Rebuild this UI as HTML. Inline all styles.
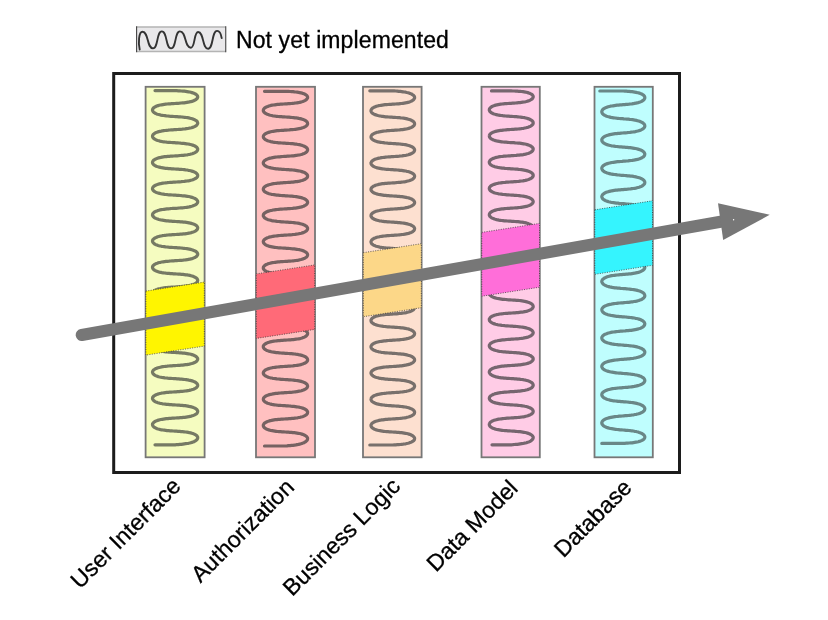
<!DOCTYPE html>
<html><head><meta charset="utf-8"><style>
html,body{margin:0;padding:0;background:#fff;}
body{width:828px;height:620px;position:relative;overflow:hidden;}
svg{position:absolute;left:0;top:0;will-change:transform;}
</style></head><body>
<svg width="828" height="620" viewBox="0 0 828 620">
<rect x="136.5" y="26.9" width="89.3" height="24.6" fill="#e9e8ea"/>
<path d="M136.5,26.9 H225.8 M136.5,51.5 H225.8" stroke="#b4b4b4" stroke-width="1.5" fill="none"/>
<path d="M136.6,26.2 V52.2 M225.75,26.2 V52.2" stroke="#444" stroke-width="1.1" fill="none"/>
<path d="M139.7,49.6 C138.2,43.5 138.6,31.8 142.50,31.80 C148.80,31.80 146.70,48.40 153.00,48.40 C158.28,48.40 156.52,31.40 161.80,31.40 C167.38,31.40 165.52,48.40 171.10,48.40 C176.38,48.40 174.62,31.40 179.90,31.40 C186.50,31.40 184.30,47.70 190.90,47.70 C195.22,47.70 193.78,32.00 198.10,32.00 C204.10,32.00 202.10,48.70 208.10,48.70 C213.50,48.70 211.70,30.90 217.10,30.90 C220,30.9 221.2,35 221.7,38.1" fill="none" stroke="#333" stroke-width="1.9" stroke-linecap="round"/>
<text x="236" y="47.8" font-family="Liberation Sans" font-size="23" letter-spacing="0.11" fill="#000" stroke="#000" stroke-width="0.3">Not yet implemented</text>
<rect x="113.7" y="73.5" width="565.8" height="399" fill="#fff" stroke="#1c1c1c" stroke-width="3"/>
<rect x="145.6" y="86.8" width="59.00" height="370.5" fill="#f5fcc0" stroke="#777" stroke-width="1.8"/>
<path d="M155.0,90.6L175.1,90.6 176.7,90.7 178.3,90.8 179.8,90.9 181.3,91.0 182.9,91.1 184.3,91.2 185.7,91.4 187.1,91.6 188.4,91.8 189.7,92.0 190.8,92.3 191.9,92.6 193.0,92.9 193.9,93.2 194.7,93.6 195.4,94.0 196.1,94.4 196.6,94.8 197.1,95.3 197.4,95.8 197.6,96.2 197.7,96.7 197.7,97.2 197.6,97.7 197.3,98.1 197.0,98.6 196.5,99.1 196.0,99.5 195.3,99.9 194.6,100.3 193.7,100.7 192.8,101.1 191.8,101.4 190.7,101.7 189.5,101.9 188.2,102.2 186.9,102.4 185.5,102.6 184.1,102.8 182.6,102.9 181.1,103.0 179.6,103.2 178.0,103.3 176.4,103.4 174.9,103.5 173.3,103.6 171.7,103.7 170.2,103.8 168.6,103.9 167.1,104.0 165.7,104.2 164.3,104.4 162.9,104.6 161.6,104.8 160.4,105.0 159.2,105.3 158.1,105.6 157.1,105.9 156.2,106.3 155.4,106.7 154.6,107.1 154.0,107.5 153.5,108.0 153.1,108.4 152.8,108.9 152.6,109.4 152.5,109.9 152.5,110.4 152.7,110.8 152.9,111.3 153.3,111.8 153.7,112.2 154.3,112.7 155.0,113.1 155.7,113.5 156.6,113.9 157.5,114.2 158.6,114.5 159.7,114.8 160.9,115.1 162.2,115.3 163.5,115.5 164.9,115.7 166.3,115.9 167.8,116.0 169.3,116.2 170.8,116.3 172.4,116.4 174.0,116.5 175.6,116.6 177.1,116.7 178.7,116.8 180.3,116.9 181.8,117.0 183.3,117.2 184.7,117.3 186.2,117.5 187.5,117.7 188.8,117.9 190.0,118.2 191.2,118.5 192.2,118.8 193.2,119.1 194.1,119.5 194.9,119.9 195.6,120.3 196.3,120.7 196.8,121.1 197.2,121.6 197.4,122.1 197.6,122.6 197.7,123.1 197.7,123.5 197.5,124.0 197.2,124.5 196.9,125.0 196.4,125.4 195.8,125.9 195.1,126.3 194.4,126.7 193.5,127.0 192.5,127.4 191.5,127.7 190.3,128.0 189.1,128.2 187.8,128.5 186.5,128.7 185.1,128.9 183.7,129.0 182.2,129.2 180.7,129.3 179.1,129.4 177.6,129.5 176.0,129.6 174.4,129.7 172.8,129.8 171.2,129.9 169.7,130.0 168.2,130.2 166.7,130.3 165.2,130.5 163.8,130.6 162.5,130.8 161.2,131.1 160.0,131.3 158.9,131.6 157.8,131.9 156.8,132.3 155.9,132.6 155.1,133.0 154.5,133.4 153.9,133.9 153.4,134.3 153.0,134.8 152.7,135.3 152.6,135.7 152.5,136.2 152.6,136.7 152.7,137.2 153.0,137.7 153.4,138.1 153.9,138.6 154.5,139.0 155.2,139.4 156.0,139.8 156.9,140.2 157.8,140.5 158.9,140.8 160.0,141.1 161.3,141.4 162.5,141.6 163.9,141.8 165.3,142.0 166.7,142.2 168.2,142.3 169.8,142.4 171.3,142.5 172.9,142.6 174.5,142.7 176.0,142.8 177.6,142.9 179.2,143.0 180.7,143.2 182.2,143.3 183.7,143.4 185.2,143.6 186.6,143.8 187.9,144.0 189.2,144.2 190.4,144.5 191.5,144.8 192.5,145.1 193.5,145.4 194.4,145.8 195.2,146.2 195.8,146.6 196.4,147.0 196.9,147.5 197.3,148.0 197.5,148.4 197.7,148.9 197.7,149.4 197.6,149.9 197.4,150.4 197.1,150.9 196.7,151.3 196.2,151.8 195.6,152.2 194.9,152.6 194.1,153.0 193.2,153.4 192.2,153.7 191.1,154.0 190.0,154.3 188.8,154.5 187.5,154.8 186.1,155.0 184.7,155.1 183.2,155.3 181.7,155.4 180.2,155.5 178.7,155.7 177.1,155.8 175.5,155.9 173.9,156.0 172.4,156.1 170.8,156.2 169.2,156.3 167.7,156.4 166.3,156.6 164.8,156.7 163.4,156.9 162.1,157.1 160.8,157.4 159.7,157.6 158.5,157.9 157.5,158.2 156.6,158.6 155.7,159.0 154.9,159.4 154.3,159.8 153.7,160.2 153.2,160.7 152.9,161.1 152.7,161.6 152.5,162.1 152.5,162.6 152.6,163.1 152.8,163.6 153.1,164.0 153.5,164.5 154.0,164.9 154.7,165.4 155.4,165.8 156.2,166.2 157.1,166.5 158.1,166.8 159.2,167.1 160.4,167.4 161.6,167.7 162.9,167.9 164.3,168.1 165.7,168.3 167.2,168.4 168.7,168.6 170.2,168.7 171.8,168.8 173.3,168.9 174.9,169.0 176.5,169.1 178.1,169.2 179.6,169.3 181.2,169.4 182.7,169.5 184.2,169.7 185.6,169.9 187.0,170.0 188.3,170.3 189.5,170.5 190.7,170.8 191.8,171.1 192.8,171.4 193.8,171.7 194.6,172.1 195.4,172.5 196.0,172.9 196.6,173.4 197.0,173.8 197.3,174.3 197.6,174.8 197.7,175.3 197.7,175.8 197.6,176.3 197.4,176.7 197.0,177.2 196.6,177.7 196.1,178.1 195.4,178.5 194.7,178.9 193.8,179.3 192.9,179.7 191.9,180.0 190.8,180.3 189.6,180.6 188.4,180.8 187.1,181.0 185.7,181.2 184.3,181.4 182.8,181.5 181.3,181.7 179.8,181.8 178.2,181.9 176.6,182.0 175.0,182.1 173.5,182.2 171.9,182.3 170.3,182.4 168.8,182.5 167.3,182.7 165.8,182.8 164.4,183.0 163.0,183.2 161.7,183.4 160.5,183.7 159.3,183.9 158.2,184.2 157.2,184.6 156.3,184.9 155.5,185.3 154.7,185.7 154.1,186.1 153.6,186.6 153.1,187.0 152.8,187.5 152.6,188.0 152.5,188.5 152.5,189.0 152.6,189.4 152.9,189.9 153.2,190.4 153.7,190.8 154.2,191.3 154.9,191.7 155.6,192.1 156.5,192.5 157.4,192.8 158.5,193.1 159.6,193.4 160.8,193.7 162.0,194.0 163.3,194.2 164.7,194.4 166.1,194.5 167.6,194.7 169.1,194.8 170.7,194.9 172.2,195.0 173.8,195.1 175.4,195.2 177.0,195.3 178.5,195.4 180.1,195.5 181.6,195.7 183.1,195.8 184.6,195.9 186.0,196.1 187.4,196.3 188.7,196.5 189.9,196.8 191.0,197.1 192.1,197.4 193.1,197.7 194.0,198.1 194.9,198.5 195.6,198.9 196.2,199.3 196.7,199.7 197.1,200.2 197.4,200.7 197.6,201.2 197.7,201.6 197.7,202.1 197.5,202.6 197.3,203.1 196.9,203.6 196.5,204.0 195.9,204.5 195.2,204.9 194.4,205.3 193.6,205.6 192.6,206.0 191.6,206.3 190.5,206.6 189.3,206.9 188.0,207.1 186.7,207.3 185.3,207.5 183.8,207.7 182.4,207.8 180.8,207.9 179.3,208.0 177.7,208.2 176.2,208.3 174.6,208.3 173.0,208.4 171.4,208.5 169.9,208.7 168.3,208.8 166.9,208.9 165.4,209.1 164.0,209.3 162.6,209.5 161.4,209.7 160.1,209.9 159.0,210.2 157.9,210.5 156.9,210.9 156.0,211.2 155.2,211.6 154.5,212.0 153.9,212.5 153.4,212.9 153.0,213.4 152.7,213.9 152.6,214.3 152.5,214.8 152.5,215.3 152.7,215.8 153.0,216.3 153.3,216.7 153.8,217.2 154.4,217.6 155.1,218.0 155.9,218.4 156.8,218.8 157.7,219.1 158.8,219.5 159.9,219.7 161.1,220.0 162.4,220.2 163.7,220.4 165.1,220.6 166.6,220.8 168.1,220.9 169.6,221.1 171.1,221.2 172.7,221.3 174.3,221.4 175.9,221.5 177.4,221.6 179.0,221.7 180.6,221.8 182.1,221.9 183.6,222.1 185.0,222.2 186.4,222.4 187.8,222.6 189.0,222.8 190.2,223.1 191.4,223.4 192.4,223.7 193.4,224.0 194.3,224.4 195.1,224.8 195.8,225.2 196.4,225.6 196.8,226.1 197.2,226.6 197.5,227.0 197.7,227.5 197.7,228.0 197.6,228.5 197.5,229.0 197.2,229.5 196.8,229.9 196.3,230.4 195.7,230.8 195.0,231.2 194.2,231.6 193.3,232.0 192.3,232.3 191.3,232.6 190.1,232.9 188.9,233.1 187.6,233.4 186.3,233.6 184.9,233.8 183.4,233.9 181.9,234.1 180.4,234.2 178.8,234.3 177.3,234.4 175.7,234.5 174.1,234.6 172.5,234.7 171.0,234.8 169.4,234.9 167.9,235.0 166.4,235.2 165.0,235.3 163.6,235.5 162.3,235.7 161.0,236.0 159.8,236.2 158.7,236.5 157.6,236.8 156.7,237.2 155.8,237.6 155.0,238.0 154.3,238.4 153.8,238.8 153.3,239.3 152.9,239.7 152.7,240.2 152.5,240.7 152.5,241.2 152.6,241.7 152.8,242.2 153.1,242.6 153.5,243.1 154.0,243.5 154.6,244.0 155.3,244.4 156.1,244.8 157.0,245.1 158.0,245.5 159.1,245.8 160.3,246.0 161.5,246.3 162.8,246.5 164.1,246.7 165.6,246.9 167.0,247.0 168.5,247.2 170.0,247.3 171.6,247.4 173.2,247.5 174.7,247.6 176.3,247.7 177.9,247.8 179.5,247.9 181.0,248.0 182.5,248.2 184.0,248.3 185.4,248.5 186.8,248.7 188.1,248.9 189.4,249.1 190.6,249.4 191.7,249.7 192.7,250.0 193.7,250.4 194.5,250.7 195.3,251.1 196.0,251.5 196.5,252.0 197.0,252.4 197.3,252.9 197.5,253.4 197.7,253.9 197.7,254.4 197.6,254.9 197.4,255.3 197.1,255.8 196.7,256.3 196.1,256.7 195.5,257.1 194.8,257.5 193.9,257.9 193.0,258.3 192.0,258.6 190.9,258.9 189.8,259.2 188.5,259.4 187.2,259.7 185.8,259.8 184.4,260.0 183.0,260.2 181.5,260.3 179.9,260.4 178.4,260.5 176.8,260.6 175.2,260.7 173.6,260.8 172.1,260.9 170.5,261.0 169.0,261.2 167.5,261.3 166.0,261.4 164.6,261.6 163.2,261.8 161.9,262.0 160.6,262.3 159.4,262.5 158.3,262.8 157.3,263.2 156.4,263.5 155.5,263.9 154.8,264.3 154.2,264.7 153.6,265.2 153.2,265.6 152.8,266.1 152.6,266.6 152.5,267.1 152.5,267.5 152.6,268.0 152.8,268.5 153.2,269.0 153.6,269.4 154.2,269.9 154.8,270.3 155.5,270.7 156.4,271.1 157.3,271.4 158.3,271.8 159.4,272.1 160.6,272.3 161.9,272.6 163.2,272.8 164.6,273.0 166.0,273.2 167.5,273.3 169.0,273.4 170.5,273.6 172.1,273.7 173.6,273.8 175.2,273.9 176.8,274.0 178.4,274.1 179.9,274.2 181.5,274.3 183.0,274.4 184.4,274.6 185.8,274.8 187.2,274.9 188.5,275.2 189.8,275.4 190.9,275.7 192.0,276.0 193.0,276.3 193.9,276.7 194.8,277.1 195.5,277.5 196.1,277.9 196.7,278.3 197.1,278.8 197.4,279.3 197.6,279.7 197.7,280.2 197.7,280.7 197.5,281.2 197.3,281.7 197.0,282.2 196.5,282.6 196.0,283.1 195.3,283.5 194.5,283.9 193.7,284.2 192.7,284.6 191.7,284.9 190.6,285.2 189.4,285.5 188.1,285.7 186.8,285.9 185.4,286.1 184.0,286.3 182.5,286.4 181.0,286.6 179.5,286.7 177.9,286.8 176.3,286.9 174.7,287.0 173.2,287.1 171.6,287.2 170.0,287.3 168.5,287.4 167.0,287.6 165.6,287.7 164.1,287.9 162.8,288.1 161.5,288.3 160.3,288.6 159.1,288.8 158.0,289.1 157.0,289.5 156.1,289.8 155.3,290.2 154.6,290.6 154.0,291.1 153.5,291.5 153.1,292.0 152.8,292.4 152.6,292.9 152.5,293.4 152.5,293.9 152.7,294.4 152.9,294.9 153.3,295.3 153.8,295.8 154.3,296.2 155.0,296.6 155.8,297.0 156.7,297.4 157.6,297.8 158.7,298.1 159.8,298.4 161.0,298.6 162.3,298.9 163.6,299.1 165.0,299.3 166.4,299.4 167.9,299.6 169.4,299.7 171.0,299.8 172.5,299.9 174.1,300.0 175.7,300.1 177.3,300.2 178.8,300.3 180.4,300.4 181.9,300.5 183.4,300.7 184.9,300.8 186.3,301.0 187.6,301.2 188.9,301.5 190.1,301.7 191.3,302.0 192.3,302.3 193.3,302.6 194.2,303.0 195.0,303.4 195.7,303.8 196.3,304.2 196.8,304.7 197.2,305.1 197.5,305.6 197.6,306.1 197.7,306.6 197.7,307.1 197.5,307.6 197.2,308.0 196.8,308.5 196.4,309.0 195.8,309.4 195.1,309.8 194.3,310.2 193.4,310.6 192.4,310.9 191.4,311.2 190.2,311.5 189.0,311.8 187.8,312.0 186.4,312.2 185.0,312.4 183.6,312.5 182.1,312.7 180.6,312.8 179.0,312.9 177.4,313.0 175.9,313.1 174.3,313.2 172.7,313.3 171.1,313.4 169.6,313.5 168.1,313.7 166.6,313.8 165.1,314.0 163.7,314.2 162.4,314.4 161.1,314.6 159.9,314.9 158.8,315.1 157.7,315.5 156.8,315.8 155.9,316.2 155.1,316.6 154.4,317.0 153.8,317.4 153.3,317.9 153.0,318.3 152.7,318.8 152.5,319.3 152.5,319.8 152.6,320.3 152.7,320.7 153.0,321.2 153.4,321.7 153.9,322.1 154.5,322.6 155.2,323.0 156.0,323.4 156.9,323.7 157.9,324.1 159.0,324.4 160.1,324.7 161.4,324.9 162.6,325.1 164.0,325.3 165.4,325.5 166.9,325.7 168.3,325.8 169.9,325.9 171.4,326.1 173.0,326.2 174.6,326.3 176.2,326.3 177.7,326.4 179.3,326.6 180.8,326.7 182.4,326.8 183.8,326.9 185.3,327.1 186.7,327.3 188.0,327.5 189.3,327.7 190.5,328.0 191.6,328.3 192.6,328.6 193.6,329.0 194.4,329.3 195.2,329.7 195.9,330.1 196.5,330.6 196.9,331.0 197.3,331.5 197.5,332.0 197.7,332.5 197.7,333.0 197.6,333.4 197.4,333.9 197.1,334.4 196.7,334.9 196.2,335.3 195.6,335.7 194.9,336.1 194.0,336.5 193.1,336.9 192.1,337.2 191.0,337.5 189.9,337.8 188.7,338.1 187.4,338.3 186.0,338.5 184.6,338.7 183.1,338.8 181.6,338.9 180.1,339.1 178.5,339.2 177.0,339.3 175.4,339.4 173.8,339.5 172.2,339.6 170.7,339.7 169.1,339.8 167.6,339.9 166.1,340.1 164.7,340.2 163.3,340.4 162.0,340.6 160.8,340.9 159.6,341.2 158.5,341.5 157.4,341.8 156.5,342.1 155.6,342.5 154.9,342.9 154.2,343.3 153.7,343.8 153.2,344.2 152.9,344.7 152.6,345.2 152.5,345.6 152.5,346.1 152.6,346.6 152.8,347.1 153.1,347.6 153.6,348.0 154.1,348.5 154.7,348.9 155.5,349.3 156.3,349.7 157.2,350.0 158.2,350.4 159.3,350.7 160.5,350.9 161.7,351.2 163.0,351.4 164.4,351.6 165.8,351.8 167.3,351.9 168.8,352.1 170.3,352.2 171.9,352.3 173.5,352.4 175.0,352.5 176.6,352.6 178.2,352.7 179.8,352.8 181.3,352.9 182.8,353.1 184.3,353.2 185.7,353.4 187.1,353.6 188.4,353.8 189.6,354.0 190.8,354.3 191.9,354.6 192.9,354.9 193.8,355.3 194.7,355.7 195.4,356.1 196.1,356.5 196.6,356.9 197.0,357.4 197.4,357.9 197.6,358.3 197.7,358.8 197.7,359.3 197.6,359.8 197.3,360.3 197.0,360.8 196.6,361.2 196.0,361.7 195.4,362.1 194.6,362.5 193.8,362.9 192.8,363.2 191.8,363.5 190.7,363.8 189.5,364.1 188.3,364.3 187.0,364.6 185.6,364.7 184.2,364.9 182.7,365.1 181.2,365.2 179.6,365.3 178.1,365.4 176.5,365.5 174.9,365.6 173.3,365.7 171.8,365.8 170.2,365.9 168.7,366.0 167.2,366.2 165.7,366.3 164.3,366.5 162.9,366.7 161.6,366.9 160.4,367.2 159.2,367.5 158.1,367.8 157.1,368.1 156.2,368.4 155.4,368.8 154.7,369.2 154.0,369.7 153.5,370.1 153.1,370.6 152.8,371.0 152.6,371.5 152.5,372.0 152.5,372.5 152.7,373.0 152.9,373.5 153.2,373.9 153.7,374.4 154.3,374.8 154.9,375.2 155.7,375.6 156.6,376.0 157.5,376.4 158.5,376.7 159.7,377.0 160.8,377.2 162.1,377.5 163.4,377.7 164.8,377.9 166.3,378.0 167.7,378.2 169.2,378.3 170.8,378.4 172.4,378.5 173.9,378.6 175.5,378.7 177.1,378.8 178.7,378.9 180.2,379.1 181.7,379.2 183.2,379.3 184.7,379.5 186.1,379.6 187.5,379.8 188.8,380.1 190.0,380.3 191.1,380.6 192.2,380.9 193.2,381.2 194.1,381.6 194.9,382.0 195.6,382.4 196.2,382.8 196.7,383.3 197.1,383.7 197.4,384.2 197.6,384.7 197.7,385.2 197.7,385.7 197.5,386.2 197.3,386.6 196.9,387.1 196.4,387.6 195.8,388.0 195.2,388.4 194.4,388.8 193.5,389.2 192.5,389.5 191.5,389.8 190.4,390.1 189.2,390.4 187.9,390.6 186.6,390.8 185.2,391.0 183.7,391.2 182.2,391.3 180.7,391.4 179.2,391.6 177.6,391.7 176.0,391.8 174.5,391.9 172.9,392.0 171.3,392.1 169.8,392.2 168.2,392.3 166.7,392.4 165.3,392.6 163.9,392.8 162.5,393.0 161.3,393.2 160.0,393.5 158.9,393.8 157.8,394.1 156.9,394.4 156.0,394.8 155.2,395.2 154.5,395.6 153.9,396.0 153.4,396.5 153.0,396.9 152.7,397.4 152.6,397.9 152.5,398.4 152.6,398.9 152.7,399.3 153.0,399.8 153.4,400.3 153.9,400.7 154.5,401.2 155.1,401.6 155.9,402.0 156.8,402.3 157.8,402.7 158.9,403.0 160.0,403.3 161.2,403.5 162.5,403.8 163.8,404.0 165.2,404.1 166.7,404.3 168.2,404.4 169.7,404.6 171.2,404.7 172.8,404.8 174.4,404.9 176.0,405.0 177.6,405.1 179.1,405.2 180.7,405.3 182.2,405.4 183.7,405.6 185.1,405.7 186.5,405.9 187.8,406.1 189.1,406.4 190.3,406.6 191.5,406.9 192.5,407.2 193.5,407.6 194.4,407.9 195.1,408.3 195.8,408.7 196.4,409.2 196.9,409.6 197.2,410.1 197.5,410.6 197.7,411.1 197.7,411.5 197.6,412.0 197.4,412.5 197.2,413.0 196.8,413.5 196.3,413.9 195.6,414.3 194.9,414.7 194.1,415.1 193.2,415.5 192.2,415.8 191.2,416.1 190.0,416.4 188.8,416.7 187.5,416.9 186.2,417.1 184.7,417.3 183.3,417.4 181.8,417.6 180.3,417.7 178.7,417.8 177.1,417.9 175.6,418.0 174.0,418.1 172.4,418.2 170.8,418.3 169.3,418.4 167.8,418.6 166.3,418.7 164.9,418.9 163.5,419.1 162.2,419.3 160.9,419.5 159.7,419.8 158.6,420.1 157.5,420.4 156.6,420.7 155.7,421.1 155.0,421.5 154.3,421.9 153.7,422.4 153.3,422.8 152.9,423.3 152.7,423.8 152.5,424.2 152.5,424.7 152.6,425.2 152.8,425.7 153.1,426.2 153.5,426.6 154.0,427.1 154.6,427.5 155.4,427.9 156.2,428.3 157.1,428.7 158.1,429.0 159.2,429.3 160.4,429.6 161.6,429.8 162.9,430.0 164.3,430.2 165.7,430.4 167.1,430.6 168.6,430.7 170.2,430.8 171.7,430.9 173.3,431.0 174.9,431.1 176.4,431.2 178.0,431.3 179.6,431.4 181.1,431.6 182.6,431.7 184.1,431.8 185.5,432.0 186.9,432.2 188.2,432.4 189.5,432.7 190.7,432.9 191.8,433.2 192.8,433.5 193.7,433.9 194.6,434.3 195.3,434.7 196.0,435.1 196.5,435.5 197.0,436.0 197.3,436.5 197.6,436.9 197.7,437.4 197.7,437.9 197.6,438.4 197.4,438.9 197.1,439.4 196.6,439.9 196.1,440.4 195.4,440.8 194.7,441.3 193.9,441.7 193.0,442.0 191.9,442.4 190.8,442.7 189.7,443.0 188.4,443.3 187.1,443.5 185.7,443.7 184.3,443.9 182.9,444.1 181.3,444.3 179.8,444.4 178.3,444.6 176.7,444.7 175.1,444.8 155.0,444.8" fill="none" stroke="#767a64" stroke-width="3.2" stroke-linecap="round" stroke-linejoin="round"/>
<polygon points="145.9,291.1 204.29999999999998,282.1 204.29999999999998,346.1 145.9,355.1" fill="#fff500" stroke="#333" stroke-width="0.75" stroke-dasharray="1 1.4"/>
<rect x="256.0" y="86.8" width="59.00" height="370.5" fill="#ffc0c0" stroke="#777" stroke-width="1.8"/>
<path d="M264.5,91.3L285.5,91.3 287.0,91.4 288.5,91.4 290.1,91.5 291.6,91.6 293.0,91.7 294.5,91.9 295.9,92.0 297.2,92.2 298.5,92.4 299.7,92.6 300.9,92.8 302.0,93.1 302.9,93.4 303.9,93.8 304.7,94.1 305.4,94.5 306.0,94.9 306.5,95.3 307.0,95.7 307.3,96.2 307.5,96.6 307.6,97.1 307.6,97.6 307.5,98.1 307.2,98.5 306.9,99.0 306.5,99.5 305.9,99.9 305.3,100.3 304.6,100.7 303.7,101.1 302.8,101.5 301.8,101.8 300.7,102.1 299.6,102.4 298.3,102.6 297.0,102.8 295.7,103.0 294.3,103.2 292.8,103.3 291.4,103.5 289.8,103.6 288.3,103.7 286.8,103.8 285.2,103.9 283.7,104.0 282.1,104.1 280.6,104.2 279.1,104.3 277.6,104.4 276.2,104.6 274.8,104.8 273.5,105.0 272.2,105.2 271.0,105.4 269.9,105.7 268.8,106.0 267.8,106.4 266.9,106.7 266.1,107.1 265.4,107.5 264.8,107.9 264.3,108.4 263.9,108.8 263.6,109.3 263.4,109.8 263.3,110.3 263.3,110.8 263.5,111.3 263.7,111.7 264.0,112.2 264.5,112.7 265.1,113.1 265.7,113.5 266.5,113.9 267.3,114.3 268.2,114.6 269.3,115.0 270.4,115.3 271.5,115.5 272.8,115.8 274.1,116.0 275.4,116.2 276.8,116.3 278.3,116.5 279.8,116.6 281.3,116.7 282.8,116.8 284.4,116.9 285.9,117.0 287.5,117.1 289.0,117.2 290.5,117.3 292.0,117.5 293.5,117.6 294.9,117.8 296.3,117.9 297.6,118.1 298.9,118.4 300.1,118.6 301.2,118.9 302.3,119.2 303.2,119.5 304.1,119.9 304.9,120.3 305.6,120.7 306.2,121.1 306.7,121.6 307.1,122.0 307.4,122.5 307.5,123.0 307.6,123.5 307.6,124.0 307.4,124.5 307.2,124.9 306.8,125.4 306.3,125.9 305.8,126.3 305.1,126.7 304.3,127.1 303.5,127.5 302.5,127.8 301.5,128.1 300.4,128.4 299.2,128.7 297.9,128.9 296.6,129.1 295.3,129.3 293.9,129.5 292.4,129.6 290.9,129.7 289.4,129.9 287.9,130.0 286.3,130.1 284.8,130.2 283.2,130.3 281.7,130.4 280.2,130.5 278.7,130.6 277.2,130.7 275.8,130.9 274.4,131.1 273.1,131.3 271.8,131.5 270.7,131.8 269.5,132.1 268.5,132.4 267.5,132.7 266.7,133.1 265.9,133.5 265.2,133.9 264.6,134.3 264.2,134.8 263.8,135.2 263.5,135.7 263.4,136.2 263.3,136.7 263.4,137.2 263.5,137.7 263.8,138.1 264.2,138.6 264.7,139.1 265.2,139.5 265.9,139.9 266.7,140.3 267.6,140.7 268.5,141.0 269.6,141.3 270.7,141.6 271.9,141.8 273.1,142.1 274.5,142.3 275.8,142.5 277.3,142.6 278.7,142.8 280.2,142.9 281.7,143.0 283.3,143.1 284.8,143.2 286.4,143.3 287.9,143.4 289.5,143.5 291.0,143.6 292.5,143.7 293.9,143.9 295.3,144.1 296.7,144.2 298.0,144.5 299.2,144.7 300.4,144.9 301.5,145.2 302.6,145.6 303.5,145.9 304.3,146.3 305.1,146.7 305.8,147.1 306.3,147.5 306.8,148.0 307.2,148.4 307.4,148.9 307.6,149.4 307.6,149.9 307.5,150.4 307.3,150.9 307.1,151.3 306.7,151.8 306.2,152.2 305.6,152.7 304.9,153.1 304.1,153.5 303.2,153.8 302.2,154.2 301.2,154.5 300.0,154.8 298.8,155.0 297.6,155.2 296.2,155.4 294.9,155.6 293.4,155.8 292.0,155.9 290.5,156.0 288.9,156.1 287.4,156.2 285.9,156.3 284.3,156.4 282.8,156.5 281.2,156.6 279.7,156.8 278.2,156.9 276.8,157.0 275.4,157.2 274.0,157.4 272.7,157.6 271.5,157.9 270.3,158.1 269.2,158.4 268.2,158.7 267.3,159.1 266.4,159.5 265.7,159.9 265.0,160.3 264.5,160.7 264.0,161.2 263.7,161.6 263.5,162.1 263.3,162.6 263.3,163.1 263.4,163.6 263.6,164.1 263.9,164.5 264.3,165.0 264.8,165.4 265.4,165.9 266.1,166.3 267.0,166.7 267.8,167.0 268.8,167.3 269.9,167.6 271.0,167.9 272.3,168.2 273.5,168.4 274.9,168.6 276.3,168.8 277.7,168.9 279.2,169.1 280.7,169.2 282.2,169.3 283.7,169.4 285.3,169.5 286.8,169.6 288.4,169.7 289.9,169.8 291.4,169.9 292.9,170.0 294.3,170.2 295.7,170.4 297.1,170.6 298.4,170.8 299.6,171.0 300.8,171.3 301.8,171.6 302.8,171.9 303.8,172.3 304.6,172.6 305.3,173.0 306.0,173.5 306.5,173.9 306.9,174.4 307.3,174.8 307.5,175.3 307.6,175.8 307.6,176.3 307.5,176.8 307.3,177.3 307.0,177.7 306.5,178.2 306.0,178.6 305.4,179.1 304.6,179.5 303.8,179.8 302.9,180.2 301.9,180.5 300.8,180.8 299.7,181.1 298.5,181.3 297.2,181.6 295.8,181.7 294.4,181.9 293.0,182.1 291.5,182.2 290.0,182.3 288.5,182.4 286.9,182.5 285.4,182.6 283.8,182.7 282.3,182.8 280.8,182.9 279.3,183.1 277.8,183.2 276.4,183.3 275.0,183.5 273.6,183.7 272.3,183.9 271.1,184.2 270.0,184.5 268.9,184.8 267.9,185.1 267.0,185.4 266.2,185.8 265.5,186.2 264.9,186.7 264.3,187.1 263.9,187.6 263.6,188.0 263.4,188.5 263.3,189.0 263.3,189.5 263.4,190.0 263.7,190.5 264.0,190.9 264.4,191.4 265.0,191.8 265.6,192.2 266.4,192.6 267.2,193.0 268.1,193.4 269.1,193.7 270.2,194.0 271.4,194.3 272.6,194.5 273.9,194.7 275.3,194.9 276.7,195.1 278.1,195.2 279.6,195.3 281.1,195.5 282.6,195.6 284.2,195.7 285.7,195.8 287.3,195.9 288.8,196.0 290.4,196.1 291.9,196.2 293.3,196.3 294.7,196.5 296.1,196.7 297.5,196.9 298.7,197.1 299.9,197.3 301.1,197.6 302.1,197.9 303.1,198.3 304.0,198.6 304.8,199.0 305.5,199.4 306.1,199.8 306.6,200.3 307.0,200.8 307.3,201.2 307.5,201.7 307.6,202.2 307.6,202.7 307.4,203.2 307.2,203.7 306.8,204.1 306.4,204.6 305.8,205.0 305.2,205.4 304.4,205.8 303.6,206.2 302.6,206.5 301.6,206.9 300.5,207.2 299.3,207.4 298.1,207.7 296.8,207.9 295.4,208.1 294.0,208.2 292.6,208.4 291.1,208.5 289.6,208.6 288.0,208.7 286.5,208.8 284.9,208.9 283.4,209.0 281.8,209.1 280.3,209.2 278.8,209.3 277.4,209.5 275.9,209.6 274.6,209.8 273.2,210.0 272.0,210.3 270.8,210.5 269.7,210.8 268.6,211.1 267.6,211.4 266.8,211.8 266.0,212.2 265.3,212.6 264.7,213.0 264.2,213.5 263.8,213.9 263.5,214.4 263.4,214.9 263.3,215.4 263.3,215.9 263.5,216.4 263.8,216.8 264.1,217.3 264.6,217.8 265.2,218.2 265.8,218.6 266.6,219.0 267.5,219.4 268.4,219.7 269.5,220.0 270.6,220.3 271.8,220.6 273.0,220.8 274.3,221.0 275.7,221.2 277.1,221.4 278.6,221.5 280.0,221.6 281.6,221.8 283.1,221.9 284.6,222.0 286.2,222.1 287.7,222.2 289.3,222.3 290.8,222.4 292.3,222.5 293.7,222.6 295.2,222.8 296.5,223.0 297.8,223.2 299.1,223.4 300.3,223.7 301.4,224.0 302.4,224.3 303.4,224.6 304.3,225.0 305.0,225.4 305.7,225.8 306.3,226.2 306.8,226.7 307.1,227.1 307.4,227.6 307.6,228.1 307.6,228.6 307.5,229.1 307.4,229.6 307.1,230.0 306.7,230.5 306.2,231.0 305.6,231.4 304.9,231.8 304.2,232.2 303.3,232.6 302.3,232.9 301.3,233.2 300.2,233.5 299.0,233.7 297.7,234.0 296.4,234.2 295.0,234.4 293.6,234.5 292.1,234.7 290.6,234.8 289.1,234.9 287.6,235.0 286.0,235.1 284.5,235.2 282.9,235.3 281.4,235.4 279.9,235.5 278.4,235.6 276.9,235.8 275.5,236.0 274.2,236.1 272.9,236.3 271.6,236.6 270.4,236.8 269.3,237.1 268.3,237.5 267.4,237.8 266.5,238.2 265.8,238.6 265.1,239.0 264.5,239.4 264.1,239.9 263.7,240.3 263.5,240.8 263.3,241.3 263.3,241.8 263.4,242.3 263.6,242.8 263.9,243.2 264.3,243.7 264.8,244.2 265.4,244.6 266.1,245.0 266.9,245.4 267.7,245.7 268.7,246.1 269.8,246.4 270.9,246.7 272.1,246.9 273.4,247.1 274.7,247.3 276.1,247.5 277.5,247.7 279.0,247.8 280.5,247.9 282.0,248.0 283.6,248.1 285.1,248.2 286.7,248.3 288.2,248.4 289.7,248.5 291.2,248.7 292.7,248.8 294.2,248.9 295.6,249.1 296.9,249.3 298.2,249.5 299.5,249.7 300.6,250.0 301.7,250.3 302.7,250.6 303.7,251.0 304.5,251.4 305.2,251.8 305.9,252.2 306.4,252.6 306.9,253.1 307.2,253.5 307.5,254.0 307.6,254.5 307.6,255.0 307.5,255.5 307.3,256.0 307.0,256.4 306.6,256.9 306.1,257.3 305.4,257.8 304.7,258.2 303.9,258.6 303.0,258.9 302.0,259.2 301.0,259.5 299.8,259.8 298.6,260.1 297.3,260.3 296.0,260.5 294.6,260.7 293.2,260.8 291.7,261.0 290.2,261.1 288.7,261.2 287.1,261.3 285.6,261.4 284.0,261.5 282.5,261.6 280.9,261.7 279.4,261.8 278.0,261.9 276.5,262.1 275.1,262.3 273.8,262.5 272.5,262.7 271.3,262.9 270.1,263.2 269.0,263.5 268.0,263.8 267.1,264.2 266.3,264.5 265.6,264.9 264.9,265.4 264.4,265.8 264.0,266.3 263.6,266.7 263.4,267.2 263.3,267.7 263.3,268.2 263.4,268.7 263.6,269.2 264.0,269.6 264.4,270.1 264.9,270.5 265.6,271.0 266.3,271.4 267.1,271.7 268.0,272.1 269.0,272.4 270.1,272.7 271.3,273.0 272.5,273.2 273.8,273.4 275.1,273.6 276.5,273.8 278.0,274.0 279.4,274.1 280.9,274.2 282.5,274.3 284.0,274.4 285.6,274.5 287.1,274.6 288.7,274.7 290.2,274.8 291.7,274.9 293.2,275.1 294.6,275.2 296.0,275.4 297.3,275.6 298.6,275.8 299.8,276.1 301.0,276.4 302.0,276.7 303.0,277.0 303.9,277.3 304.7,277.7 305.4,278.1 306.1,278.6 306.6,279.0 307.0,279.5 307.3,279.9 307.5,280.4 307.6,280.9 307.6,281.4 307.5,281.9 307.2,282.4 306.9,282.8 306.4,283.3 305.9,283.7 305.2,284.1 304.5,284.5 303.7,284.9 302.7,285.3 301.7,285.6 300.6,285.9 299.5,286.2 298.2,286.4 296.9,286.6 295.6,286.8 294.2,287.0 292.7,287.1 291.2,287.2 289.7,287.4 288.2,287.5 286.7,287.6 285.1,287.7 283.6,287.8 282.0,287.9 280.5,288.0 279.0,288.1 277.5,288.2 276.1,288.4 274.7,288.6 273.4,288.8 272.1,289.0 270.9,289.2 269.8,289.5 268.7,289.8 267.7,290.2 266.9,290.5 266.1,290.9 265.4,291.3 264.8,291.7 264.3,292.2 263.9,292.7 263.6,293.1 263.4,293.6 263.3,294.1 263.3,294.6 263.5,295.1 263.7,295.6 264.1,296.0 264.5,296.5 265.1,296.9 265.8,297.3 266.5,297.7 267.4,298.1 268.3,298.4 269.3,298.8 270.4,299.1 271.6,299.3 272.9,299.6 274.2,299.8 275.5,299.9 276.9,300.1 278.4,300.3 279.9,300.4 281.4,300.5 282.9,300.6 284.5,300.7 286.0,300.8 287.6,300.9 289.1,301.0 290.6,301.1 292.1,301.2 293.6,301.4 295.0,301.5 296.4,301.7 297.7,301.9 299.0,302.2 300.2,302.4 301.3,302.7 302.3,303.0 303.3,303.3 304.2,303.7 304.9,304.1 305.6,304.5 306.2,304.9 306.7,305.4 307.1,305.9 307.4,306.3 307.5,306.8 307.6,307.3 307.6,307.8 307.4,308.3 307.1,308.8 306.8,309.2 306.3,309.7 305.7,310.1 305.0,310.5 304.3,310.9 303.4,311.3 302.4,311.6 301.4,311.9 300.3,312.2 299.1,312.5 297.8,312.7 296.5,312.9 295.2,313.1 293.7,313.3 292.3,313.4 290.8,313.5 289.3,313.6 287.7,313.7 286.2,313.8 284.6,313.9 283.1,314.0 281.6,314.1 280.0,314.3 278.6,314.4 277.1,314.5 275.7,314.7 274.3,314.9 273.0,315.1 271.8,315.3 270.6,315.6 269.5,315.9 268.4,316.2 267.5,316.5 266.6,316.9 265.8,317.3 265.2,317.7 264.6,318.1 264.1,318.6 263.8,319.1 263.5,319.5 263.3,320.0 263.3,320.5 263.4,321.0 263.5,321.5 263.8,322.0 264.2,322.4 264.7,322.9 265.3,323.3 266.0,323.7 266.8,324.1 267.6,324.5 268.6,324.8 269.7,325.1 270.8,325.4 272.0,325.6 273.2,325.9 274.6,326.1 275.9,326.3 277.4,326.4 278.8,326.6 280.3,326.7 281.8,326.8 283.4,326.9 284.9,327.0 286.5,327.1 288.0,327.2 289.6,327.3 291.1,327.4 292.6,327.5 294.0,327.7 295.4,327.8 296.8,328.0 298.1,328.2 299.3,328.5 300.5,328.7 301.6,329.0 302.6,329.4 303.6,329.7 304.4,330.1 305.2,330.5 305.8,330.9 306.4,331.3 306.8,331.8 307.2,332.2 307.4,332.7 307.6,333.2 307.6,333.7 307.5,334.2 307.3,334.7 307.0,335.1 306.6,335.6 306.1,336.1 305.5,336.5 304.8,336.9 304.0,337.3 303.1,337.6 302.1,338.0 301.1,338.3 299.9,338.6 298.7,338.8 297.5,339.0 296.1,339.2 294.7,339.4 293.3,339.6 291.9,339.7 290.4,339.8 288.8,339.9 287.3,340.0 285.7,340.1 284.2,340.2 282.6,340.3 281.1,340.4 279.6,340.6 278.1,340.7 276.7,340.8 275.3,341.0 273.9,341.2 272.6,341.4 271.4,341.6 270.2,341.9 269.1,342.2 268.1,342.5 267.2,342.9 266.4,343.3 265.6,343.7 265.0,344.1 264.4,344.5 264.0,345.0 263.7,345.4 263.4,345.9 263.3,346.4 263.3,346.9 263.4,347.4 263.6,347.9 263.9,348.3 264.3,348.8 264.9,349.2 265.5,349.7 266.2,350.1 267.0,350.5 267.9,350.8 268.9,351.1 270.0,351.4 271.1,351.7 272.3,352.0 273.6,352.2 275.0,352.4 276.4,352.6 277.8,352.7 279.3,352.8 280.8,353.0 282.3,353.1 283.8,353.2 285.4,353.3 286.9,353.4 288.5,353.5 290.0,353.6 291.5,353.7 293.0,353.8 294.4,354.0 295.8,354.2 297.2,354.3 298.5,354.6 299.7,354.8 300.8,355.1 301.9,355.4 302.9,355.7 303.8,356.1 304.6,356.4 305.4,356.8 306.0,357.3 306.5,357.7 307.0,358.2 307.3,358.6 307.5,359.1 307.6,359.6 307.6,360.1 307.5,360.6 307.3,361.1 306.9,361.5 306.5,362.0 306.0,362.4 305.3,362.9 304.6,363.3 303.8,363.6 302.8,364.0 301.8,364.3 300.8,364.6 299.6,364.9 298.4,365.1 297.1,365.3 295.7,365.5 294.3,365.7 292.9,365.9 291.4,366.0 289.9,366.1 288.4,366.2 286.8,366.3 285.3,366.4 283.7,366.5 282.2,366.6 280.7,366.7 279.2,366.8 277.7,367.0 276.3,367.1 274.9,367.3 273.5,367.5 272.3,367.7 271.0,368.0 269.9,368.3 268.8,368.6 267.8,368.9 267.0,369.2 266.1,369.6 265.4,370.0 264.8,370.5 264.3,370.9 263.9,371.4 263.6,371.8 263.4,372.3 263.3,372.8 263.3,373.3 263.5,373.8 263.7,374.3 264.0,374.7 264.5,375.2 265.0,375.6 265.7,376.0 266.4,376.4 267.3,376.8 268.2,377.2 269.2,377.5 270.3,377.8 271.5,378.0 272.7,378.3 274.0,378.5 275.4,378.7 276.8,378.9 278.2,379.0 279.7,379.1 281.2,379.3 282.8,379.4 284.3,379.5 285.9,379.6 287.4,379.7 288.9,379.8 290.5,379.9 292.0,380.0 293.4,380.1 294.9,380.3 296.2,380.5 297.6,380.7 298.8,380.9 300.0,381.1 301.2,381.4 302.2,381.7 303.2,382.1 304.1,382.4 304.9,382.8 305.6,383.2 306.2,383.7 306.7,384.1 307.1,384.6 307.3,385.0 307.5,385.5 307.6,386.0 307.6,386.5 307.4,387.0 307.2,387.5 306.8,387.9 306.3,388.4 305.8,388.8 305.1,389.2 304.3,389.6 303.5,390.0 302.6,390.3 301.5,390.7 300.4,391.0 299.2,391.2 298.0,391.4 296.7,391.7 295.3,391.8 293.9,392.0 292.5,392.2 291.0,392.3 289.5,392.4 287.9,392.5 286.4,392.6 284.8,392.7 283.3,392.8 281.7,392.9 280.2,393.0 278.7,393.1 277.3,393.3 275.8,393.4 274.5,393.6 273.1,393.8 271.9,394.1 270.7,394.3 269.6,394.6 268.5,394.9 267.6,395.2 266.7,395.6 265.9,396.0 265.2,396.4 264.7,396.8 264.2,397.3 263.8,397.8 263.5,398.2 263.4,398.7 263.3,399.2 263.4,399.7 263.5,400.2 263.8,400.7 264.2,401.1 264.6,401.6 265.2,402.0 265.9,402.4 266.7,402.8 267.5,403.2 268.5,403.5 269.5,403.8 270.7,404.1 271.8,404.4 273.1,404.6 274.4,404.8 275.8,405.0 277.2,405.2 278.7,405.3 280.2,405.4 281.7,405.5 283.2,405.6 284.8,405.7 286.3,405.8 287.9,405.9 289.4,406.0 290.9,406.2 292.4,406.3 293.9,406.4 295.3,406.6 296.6,406.8 297.9,407.0 299.2,407.2 300.4,407.5 301.5,407.8 302.5,408.1 303.5,408.4 304.3,408.8 305.1,409.2 305.8,409.6 306.3,410.0 306.8,410.5 307.2,411.0 307.4,411.4 307.6,411.9 307.6,412.4 307.5,412.9 307.4,413.4 307.1,413.9 306.7,414.3 306.2,414.8 305.6,415.2 304.9,415.6 304.1,416.0 303.2,416.4 302.3,416.7 301.2,417.0 300.1,417.3 298.9,417.5 297.6,417.8 296.3,418.0 294.9,418.1 293.5,418.3 292.0,418.4 290.5,418.6 289.0,418.7 287.5,418.8 285.9,418.9 284.4,419.0 282.8,419.1 281.3,419.2 279.8,419.3 278.3,419.4 276.8,419.6 275.4,419.7 274.1,419.9 272.8,420.1 271.5,420.4 270.4,420.6 269.3,420.9 268.2,421.3 267.3,421.6 266.5,422.0 265.7,422.4 265.1,422.8 264.5,423.2 264.0,423.7 263.7,424.2 263.5,424.6 263.3,425.1 263.3,425.6 263.4,426.1 263.6,426.6 263.9,427.1 264.3,427.5 264.8,428.0 265.4,428.4 266.1,428.8 266.9,429.2 267.8,429.5 268.8,429.9 269.9,430.2 271.0,430.5 272.2,430.7 273.5,430.9 274.8,431.1 276.2,431.3 277.6,431.5 279.1,431.6 280.6,431.7 282.1,431.8 283.7,431.9 285.2,432.0 286.8,432.1 288.3,432.2 289.8,432.3 291.4,432.4 292.8,432.6 294.3,432.7 295.7,432.9 297.0,433.1 298.3,433.3 299.6,433.5 300.7,433.8 301.8,434.1 302.8,434.4 303.7,434.8 304.6,435.2 305.3,435.6 305.9,436.0 306.5,436.4 306.9,436.9 307.2,437.4 307.5,437.8 307.6,438.3 307.6,438.8 307.5,439.3 307.3,439.9 307.0,440.4 306.5,440.9 306.0,441.4 305.4,441.8 304.7,442.3 303.9,442.7 302.9,443.1 302.0,443.4 300.9,443.8 299.7,444.1 298.5,444.4 297.2,444.6 295.9,444.9 294.5,445.1 293.0,445.3 291.6,445.4 290.1,445.6 288.5,445.7 287.0,445.9 285.5,446.0 264.5,446.0" fill="none" stroke="#766262" stroke-width="3.2" stroke-linecap="round" stroke-linejoin="round"/>
<polygon points="256.3,273.9 314.7,264.9 314.7,329.4 256.3,338.4" fill="#ff6a78" stroke="#333" stroke-width="0.75" stroke-dasharray="1 1.4"/>
<rect x="363.0" y="86.8" width="58.60" height="370.5" fill="#fde0d0" stroke="#777" stroke-width="1.8"/>
<path d="M369.8,90.8L392.8,90.8 394.3,90.9 395.8,91.0 397.3,91.1 398.8,91.3 400.3,91.4 401.7,91.6 403.1,91.8 404.4,92.0 405.7,92.2 406.9,92.5 408.0,92.7 409.0,93.0 410.0,93.4 410.9,93.8 411.7,94.1 412.4,94.6 413.0,95.0 413.6,95.4 414.0,95.9 414.3,96.4 414.5,96.9 414.6,97.4 414.6,97.9 414.5,98.4 414.2,98.8 413.9,99.3 413.5,99.8 413.0,100.2 412.3,100.6 411.6,101.0 410.8,101.4 409.9,101.8 408.9,102.1 407.8,102.4 406.7,102.7 405.5,102.9 404.2,103.1 402.9,103.3 401.5,103.5 400.1,103.6 398.6,103.8 397.1,103.9 395.6,104.0 394.1,104.1 392.6,104.2 391.0,104.3 389.5,104.4 388.0,104.5 386.6,104.6 385.1,104.7 383.7,104.9 382.3,105.1 381.0,105.3 379.8,105.5 378.6,105.7 377.5,106.0 376.4,106.3 375.4,106.7 374.6,107.0 373.8,107.4 373.1,107.8 372.5,108.2 372.0,108.7 371.6,109.1 371.3,109.6 371.1,110.1 371.0,110.6 371.0,111.1 371.2,111.6 371.4,112.0 371.7,112.5 372.2,113.0 372.7,113.4 373.4,113.8 374.1,114.2 374.9,114.6 375.9,114.9 376.9,115.2 377.9,115.5 379.1,115.8 380.3,116.0 381.6,116.3 382.9,116.4 384.3,116.6 385.7,116.8 387.2,116.9 388.7,117.0 390.2,117.1 391.7,117.2 393.3,117.3 394.8,117.4 396.3,117.5 397.8,117.6 399.3,117.7 400.7,117.9 402.1,118.0 403.5,118.2 404.8,118.4 406.0,118.6 407.2,118.9 408.3,119.2 409.3,119.5 410.3,119.8 411.2,120.2 411.9,120.6 412.6,121.0 413.2,121.4 413.7,121.9 414.1,122.3 414.4,122.8 414.5,123.3 414.6,123.8 414.6,124.3 414.4,124.7 414.2,125.2 413.8,125.7 413.3,126.1 412.8,126.6 412.1,127.0 411.4,127.4 410.5,127.7 409.6,128.1 408.6,128.4 407.5,128.7 406.3,129.0 405.1,129.2 403.8,129.4 402.5,129.6 401.1,129.7 399.6,129.9 398.2,130.0 396.7,130.1 395.2,130.2 393.6,130.3 392.1,130.4 390.6,130.5 389.1,130.6 387.6,130.7 386.1,130.9 384.7,131.0 383.3,131.2 381.9,131.4 380.6,131.6 379.4,131.8 378.2,132.1 377.1,132.3 376.1,132.6 375.2,133.0 374.3,133.4 373.6,133.7 372.9,134.2 372.3,134.6 371.8,135.0 371.5,135.5 371.2,136.0 371.1,136.5 371.0,137.0 371.1,137.4 371.2,137.9 371.5,138.4 371.9,138.9 372.3,139.3 372.9,139.8 373.6,140.2 374.3,140.6 375.2,140.9 376.2,141.3 377.2,141.6 378.3,141.9 379.5,142.1 380.7,142.3 382.0,142.5 383.3,142.7 384.7,142.9 386.2,143.0 387.6,143.2 389.1,143.3 390.7,143.4 392.2,143.5 393.7,143.6 395.2,143.7 396.7,143.8 398.2,143.9 399.7,144.0 401.1,144.2 402.5,144.3 403.9,144.5 405.1,144.7 406.4,144.9 407.5,145.2 408.6,145.5 409.6,145.8 410.6,146.2 411.4,146.5 412.2,146.9 412.8,147.3 413.4,147.8 413.8,148.2 414.2,148.7 414.4,149.2 414.6,149.7 414.6,150.1 414.5,150.6 414.3,151.1 414.1,151.6 413.7,152.1 413.2,152.5 412.6,152.9 411.9,153.3 411.1,153.7 410.3,154.1 409.3,154.4 408.3,154.7 407.2,155.0 406.0,155.3 404.7,155.5 403.4,155.7 402.1,155.9 400.7,156.0 399.2,156.2 397.7,156.3 396.2,156.4 394.7,156.5 393.2,156.6 391.7,156.7 390.1,156.8 388.6,156.9 387.2,157.0 385.7,157.1 384.3,157.3 382.9,157.5 381.6,157.6 380.3,157.9 379.1,158.1 377.9,158.4 376.8,158.7 375.8,159.0 374.9,159.3 374.1,159.7 373.3,160.1 372.7,160.5 372.2,161.0 371.7,161.4 371.4,161.9 371.2,162.4 371.0,162.8 371.0,163.3 371.1,163.8 371.3,164.3 371.6,164.8 372.0,165.2 372.5,165.7 373.1,166.1 373.8,166.5 374.6,166.9 375.5,167.3 376.4,167.6 377.5,167.9 378.6,168.2 379.8,168.4 381.1,168.6 382.4,168.8 383.8,169.0 385.2,169.2 386.6,169.3 388.1,169.4 389.6,169.5 391.1,169.6 392.6,169.7 394.2,169.8 395.7,169.9 397.2,170.0 398.7,170.1 400.1,170.3 401.5,170.4 402.9,170.6 404.2,170.8 405.5,171.0 406.7,171.3 407.9,171.5 408.9,171.8 409.9,172.1 410.8,172.5 411.6,172.9 412.4,173.3 413.0,173.7 413.5,174.1 413.9,174.6 414.3,175.1 414.5,175.5 414.6,176.0 414.6,176.5 414.5,177.0 414.3,177.5 414.0,178.0 413.5,178.4 413.0,178.9 412.4,179.3 411.7,179.7 410.9,180.1 410.0,180.4 409.0,180.7 407.9,181.0 406.8,181.3 405.6,181.6 404.3,181.8 403.0,182.0 401.6,182.1 400.2,182.3 398.8,182.4 397.3,182.5 395.8,182.7 394.3,182.8 392.7,182.9 391.2,183.0 389.7,183.1 388.2,183.2 386.7,183.3 385.3,183.4 383.9,183.6 382.5,183.7 381.2,183.9 379.9,184.2 378.7,184.4 377.6,184.7 376.5,185.0 375.5,185.3 374.7,185.7 373.9,186.0 373.1,186.4 372.5,186.9 372.0,187.3 371.6,187.8 371.3,188.2 371.1,188.7 371.0,189.2 371.0,189.7 371.1,190.2 371.4,190.7 371.7,191.1 372.1,191.6 372.7,192.0 373.3,192.5 374.0,192.9 374.8,193.2 375.8,193.6 376.7,193.9 377.8,194.2 379.0,194.5 380.2,194.7 381.5,194.9 382.8,195.1 384.2,195.3 385.6,195.4 387.0,195.6 388.5,195.7 390.0,195.8 391.6,195.9 393.1,196.0 394.6,196.1 396.1,196.2 397.6,196.3 399.1,196.4 400.5,196.6 402.0,196.7 403.3,196.9 404.6,197.1 405.9,197.3 407.1,197.6 408.2,197.8 409.2,198.1 410.2,198.5 411.1,198.8 411.9,199.2 412.6,199.6 413.1,200.1 413.6,200.5 414.0,201.0 414.3,201.4 414.5,201.9 414.6,202.4 414.6,202.9 414.4,203.4 414.2,203.9 413.8,204.3 413.4,204.8 412.9,205.2 412.2,205.6 411.5,206.0 410.6,206.4 409.7,206.7 408.7,207.1 407.6,207.4 406.5,207.6 405.2,207.9 404.0,208.1 402.6,208.3 401.2,208.4 399.8,208.6 398.3,208.7 396.8,208.8 395.3,208.9 393.8,209.0 392.3,209.1 390.8,209.2 389.3,209.3 387.8,209.4 386.3,209.5 384.8,209.7 383.4,209.8 382.1,210.0 380.8,210.2 379.5,210.5 378.4,210.7 377.3,211.0 376.2,211.3 375.3,211.6 374.4,212.0 373.6,212.4 373.0,212.8 372.4,213.2 371.9,213.7 371.5,214.1 371.2,214.6 371.1,215.1 371.0,215.6 371.0,216.1 371.2,216.6 371.5,217.0 371.8,217.5 372.3,218.0 372.8,218.4 373.5,218.8 374.3,219.2 375.1,219.6 376.0,219.9 377.1,220.2 378.2,220.5 379.3,220.8 380.6,221.0 381.8,221.2 383.2,221.4 384.6,221.6 386.0,221.7 387.5,221.8 389.0,221.9 390.5,222.0 392.0,222.1 393.5,222.2 395.1,222.3 396.6,222.4 398.1,222.6 399.5,222.7 401.0,222.8 402.4,223.0 403.7,223.2 405.0,223.4 406.2,223.6 407.4,223.9 408.5,224.2 409.5,224.5 410.5,224.8 411.3,225.2 412.1,225.6 412.7,226.0 413.3,226.4 413.8,226.9 414.1,227.3 414.4,227.8 414.6,228.3 414.6,228.8 414.5,229.3 414.4,229.8 414.1,230.2 413.7,230.7 413.2,231.1 412.7,231.6 412.0,232.0 411.2,232.4 410.4,232.7 409.4,233.1 408.4,233.4 407.3,233.7 406.1,233.9 404.9,234.2 403.6,234.4 402.2,234.5 400.8,234.7 399.4,234.8 397.9,235.0 396.4,235.1 394.9,235.2 393.4,235.3 391.8,235.4 390.3,235.5 388.8,235.6 387.3,235.7 385.9,235.8 384.4,236.0 383.0,236.1 381.7,236.3 380.4,236.5 379.2,236.8 378.0,237.0 376.9,237.3 375.9,237.6 375.0,238.0 374.2,238.3 373.4,238.7 372.8,239.2 372.2,239.6 371.8,240.0 371.4,240.5 371.2,241.0 371.0,241.5 371.0,242.0 371.1,242.5 371.3,242.9 371.5,243.4 371.9,243.9 372.4,244.3 373.0,244.8 373.7,245.2 374.5,245.5 375.4,245.9 376.3,246.2 377.4,246.5 378.5,246.8 379.7,247.1 380.9,247.3 382.2,247.5 383.6,247.7 385.0,247.8 386.4,248.0 387.9,248.1 389.4,248.2 390.9,248.3 392.5,248.4 394.0,248.5 395.5,248.6 397.0,248.7 398.5,248.8 400.0,249.0 401.4,249.1 402.8,249.3 404.1,249.5 405.4,249.7 406.6,249.9 407.7,250.2 408.8,250.5 409.8,250.8 410.7,251.1 411.5,251.5 412.3,251.9 412.9,252.3 413.5,252.8 413.9,253.2 414.2,253.7 414.5,254.2 414.6,254.7 414.6,255.2 414.5,255.6 414.3,256.1 414.0,256.6 413.6,257.1 413.1,257.5 412.5,257.9 411.8,258.3 411.0,258.7 410.1,259.1 409.1,259.4 408.1,259.7 406.9,260.0 405.7,260.2 404.5,260.4 403.2,260.6 401.8,260.8 400.4,261.0 398.9,261.1 397.5,261.2 396.0,261.3 394.4,261.4 392.9,261.5 391.4,261.6 389.9,261.7 388.4,261.8 386.9,262.0 385.4,262.1 384.0,262.2 382.6,262.4 381.3,262.6 380.0,262.8 378.8,263.1 377.7,263.3 376.6,263.6 375.7,264.0 374.8,264.3 373.9,264.7 373.2,265.1 372.6,265.5 372.1,266.0 371.7,266.4 371.3,266.9 371.1,267.4 371.0,267.9 371.0,268.3 371.1,268.8 371.3,269.3 371.7,269.8 372.1,270.2 372.6,270.7 373.2,271.1 373.9,271.5 374.8,271.9 375.7,272.2 376.6,272.6 377.7,272.9 378.8,273.1 380.0,273.4 381.3,273.6 382.6,273.8 384.0,274.0 385.4,274.1 386.9,274.2 388.4,274.4 389.9,274.5 391.4,274.6 392.9,274.7 394.4,274.8 396.0,274.9 397.5,275.0 398.9,275.1 400.4,275.2 401.8,275.4 403.2,275.6 404.5,275.8 405.7,276.0 406.9,276.2 408.1,276.5 409.1,276.8 410.1,277.1 411.0,277.5 411.8,277.9 412.5,278.3 413.1,278.7 413.6,279.1 414.0,279.6 414.3,280.1 414.5,280.6 414.6,281.0 414.6,281.5 414.5,282.0 414.2,282.5 413.9,283.0 413.5,283.4 412.9,283.9 412.3,284.3 411.5,284.7 410.7,285.1 409.8,285.4 408.8,285.7 407.7,286.0 406.6,286.3 405.4,286.5 404.1,286.7 402.8,286.9 401.4,287.1 400.0,287.2 398.5,287.4 397.0,287.5 395.5,287.6 394.0,287.7 392.5,287.8 390.9,287.9 389.4,288.0 387.9,288.1 386.4,288.2 385.0,288.4 383.6,288.5 382.2,288.7 380.9,288.9 379.7,289.1 378.5,289.4 377.4,289.7 376.3,290.0 375.4,290.3 374.5,290.7 373.7,291.0 373.0,291.4 372.4,291.9 371.9,292.3 371.5,292.8 371.3,293.3 371.1,293.7 371.0,294.2 371.0,294.7 371.2,295.2 371.4,295.7 371.8,296.2 372.2,296.6 372.8,297.0 373.4,297.5 374.2,297.9 375.0,298.2 375.9,298.6 376.9,298.9 378.0,299.2 379.2,299.4 380.4,299.7 381.7,299.9 383.0,300.1 384.4,300.2 385.9,300.4 387.3,300.5 388.8,300.6 390.3,300.7 391.8,300.8 393.4,300.9 394.9,301.0 396.4,301.1 397.9,301.2 399.4,301.4 400.8,301.5 402.2,301.7 403.6,301.8 404.9,302.0 406.1,302.3 407.3,302.5 408.4,302.8 409.4,303.1 410.4,303.5 411.2,303.8 412.0,304.2 412.7,304.6 413.2,305.1 413.7,305.5 414.1,306.0 414.4,306.4 414.5,306.9 414.6,307.4 414.6,307.9 414.4,308.4 414.1,308.9 413.8,309.3 413.3,309.8 412.7,310.2 412.1,310.6 411.3,311.0 410.5,311.4 409.5,311.7 408.5,312.0 407.4,312.3 406.2,312.6 405.0,312.8 403.7,313.0 402.4,313.2 401.0,313.4 399.5,313.5 398.1,313.6 396.6,313.8 395.1,313.9 393.5,314.0 392.0,314.1 390.5,314.2 389.0,314.3 387.5,314.4 386.0,314.5 384.6,314.6 383.2,314.8 381.8,315.0 380.6,315.2 379.3,315.4 378.2,315.7 377.1,316.0 376.0,316.3 375.1,316.6 374.3,317.0 373.5,317.4 372.8,317.8 372.3,318.2 371.8,318.7 371.5,319.2 371.2,319.6 371.0,320.1 371.0,320.6 371.1,321.1 371.2,321.6 371.5,322.1 371.9,322.5 372.4,323.0 373.0,323.4 373.6,323.8 374.4,324.2 375.3,324.6 376.2,324.9 377.3,325.2 378.4,325.5 379.5,325.7 380.8,326.0 382.1,326.2 383.4,326.4 384.8,326.5 386.3,326.7 387.8,326.8 389.3,326.9 390.8,327.0 392.3,327.1 393.8,327.2 395.3,327.3 396.8,327.4 398.3,327.5 399.8,327.6 401.2,327.8 402.6,327.9 404.0,328.1 405.2,328.3 406.5,328.6 407.6,328.8 408.7,329.1 409.7,329.5 410.6,329.8 411.5,330.2 412.2,330.6 412.9,331.0 413.4,331.4 413.8,331.9 414.2,332.3 414.4,332.8 414.6,333.3 414.6,333.8 414.5,334.3 414.3,334.8 414.0,335.2 413.6,335.7 413.1,336.1 412.6,336.6 411.9,337.0 411.1,337.4 410.2,337.7 409.2,338.1 408.2,338.4 407.1,338.6 405.9,338.9 404.6,339.1 403.3,339.3 402.0,339.5 400.5,339.6 399.1,339.8 397.6,339.9 396.1,340.0 394.6,340.1 393.1,340.2 391.6,340.3 390.0,340.4 388.5,340.5 387.0,340.6 385.6,340.8 384.2,340.9 382.8,341.1 381.5,341.3 380.2,341.5 379.0,341.7 377.8,342.0 376.7,342.3 375.8,342.6 374.8,343.0 374.0,343.3 373.3,343.7 372.7,344.2 372.1,344.6 371.7,345.1 371.4,345.5 371.1,346.0 371.0,346.5 371.0,347.0 371.1,347.5 371.3,348.0 371.6,348.4 372.0,348.9 372.5,349.3 373.1,349.8 373.9,350.2 374.7,350.5 375.5,350.9 376.5,351.2 377.6,351.5 378.7,351.8 379.9,352.0 381.2,352.3 382.5,352.5 383.9,352.6 385.3,352.8 386.7,352.9 388.2,353.0 389.7,353.1 391.2,353.2 392.7,353.3 394.3,353.4 395.8,353.5 397.3,353.7 398.8,353.8 400.2,353.9 401.6,354.1 403.0,354.2 404.3,354.4 405.6,354.6 406.8,354.9 407.9,355.2 409.0,355.5 410.0,355.8 410.9,356.1 411.7,356.5 412.4,356.9 413.0,357.3 413.5,357.8 414.0,358.2 414.3,358.7 414.5,359.2 414.6,359.7 414.6,360.2 414.5,360.7 414.3,361.1 413.9,361.6 413.5,362.1 413.0,362.5 412.4,362.9 411.6,363.3 410.8,363.7 409.9,364.1 408.9,364.4 407.9,364.7 406.7,364.9 405.5,365.2 404.2,365.4 402.9,365.6 401.5,365.8 400.1,365.9 398.7,366.1 397.2,366.2 395.7,366.3 394.2,366.4 392.6,366.5 391.1,366.6 389.6,366.7 388.1,366.8 386.6,366.9 385.2,367.0 383.8,367.2 382.4,367.4 381.1,367.6 379.8,367.8 378.6,368.0 377.5,368.3 376.4,368.6 375.5,368.9 374.6,369.3 373.8,369.7 373.1,370.1 372.5,370.5 372.0,371.0 371.6,371.4 371.3,371.9 371.1,372.4 371.0,372.9 371.0,373.4 371.2,373.8 371.4,374.3 371.7,374.8 372.2,375.2 372.7,375.7 373.3,376.1 374.1,376.5 374.9,376.9 375.8,377.2 376.8,377.5 377.9,377.8 379.1,378.1 380.3,378.3 381.6,378.6 382.9,378.7 384.3,378.9 385.7,379.1 387.2,379.2 388.6,379.3 390.1,379.4 391.7,379.5 393.2,379.6 394.7,379.7 396.2,379.8 397.7,379.9 399.2,380.0 400.7,380.2 402.1,380.3 403.4,380.5 404.7,380.7 406.0,380.9 407.2,381.2 408.3,381.5 409.3,381.8 410.3,382.1 411.1,382.5 411.9,382.9 412.6,383.3 413.2,383.7 413.7,384.1 414.1,384.6 414.3,385.1 414.5,385.6 414.6,386.1 414.6,386.5 414.4,387.0 414.2,387.5 413.8,388.0 413.4,388.4 412.8,388.9 412.2,389.3 411.4,389.7 410.6,390.0 409.6,390.4 408.6,390.7 407.5,391.0 406.4,391.3 405.1,391.5 403.9,391.7 402.5,391.9 401.1,392.0 399.7,392.2 398.2,392.3 396.7,392.4 395.2,392.5 393.7,392.6 392.2,392.7 390.7,392.8 389.1,392.9 387.6,393.0 386.2,393.2 384.7,393.3 383.3,393.5 382.0,393.7 380.7,393.9 379.5,394.1 378.3,394.3 377.2,394.6 376.2,394.9 375.2,395.3 374.3,395.6 373.6,396.0 372.9,396.4 372.3,396.9 371.9,397.3 371.5,397.8 371.2,398.3 371.1,398.8 371.0,399.2 371.1,399.7 371.2,400.2 371.5,400.7 371.8,401.2 372.3,401.6 372.9,402.0 373.6,402.5 374.3,402.8 375.2,403.2 376.1,403.6 377.1,403.9 378.2,404.1 379.4,404.4 380.6,404.6 381.9,404.8 383.3,405.0 384.7,405.2 386.1,405.3 387.6,405.5 389.1,405.6 390.6,405.7 392.1,405.8 393.6,405.9 395.2,406.0 396.7,406.1 398.2,406.2 399.6,406.3 401.1,406.5 402.5,406.6 403.8,406.8 405.1,407.0 406.3,407.2 407.5,407.5 408.6,407.8 409.6,408.1 410.5,408.5 411.4,408.8 412.1,409.2 412.8,409.6 413.3,410.1 413.8,410.5 414.2,411.0 414.4,411.5 414.6,411.9 414.6,412.4 414.5,412.9 414.4,413.4 414.1,413.9 413.7,414.3 413.2,414.8 412.6,415.2 411.9,415.6 411.2,416.0 410.3,416.4 409.3,416.7 408.3,417.0 407.2,417.3 406.0,417.6 404.8,417.8 403.5,418.0 402.1,418.2 400.7,418.3 399.3,418.5 397.8,418.6 396.3,418.7 394.8,418.8 393.3,418.9 391.7,419.0 390.2,419.1 388.7,419.2 387.2,419.3 385.7,419.4 384.3,419.6 382.9,419.8 381.6,419.9 380.3,420.2 379.1,420.4 377.9,420.7 376.9,421.0 375.9,421.3 374.9,421.6 374.1,422.0 373.4,422.4 372.7,422.8 372.2,423.2 371.7,423.7 371.4,424.2 371.2,424.6 371.0,425.1 371.0,425.6 371.1,426.1 371.3,426.6 371.6,427.1 372.0,427.5 372.5,428.0 373.1,428.4 373.8,428.8 374.6,429.2 375.4,429.5 376.4,429.9 377.5,430.2 378.6,430.5 379.8,430.7 381.0,430.9 382.3,431.1 383.7,431.3 385.1,431.5 386.6,431.6 388.0,431.7 389.5,431.8 391.0,431.9 392.6,432.0 394.1,432.1 395.6,432.2 397.1,432.3 398.6,432.4 400.1,432.6 401.5,432.7 402.9,432.9 404.2,433.1 405.5,433.3 406.7,433.5 407.8,433.8 408.9,434.1 409.9,434.4 410.8,434.8 411.6,435.2 412.3,435.6 413.0,436.0 413.5,436.4 413.9,436.9 414.2,437.4 414.5,437.8 414.6,438.3 414.6,438.8 414.5,439.3 414.3,439.8 414.0,440.2 413.6,440.7 413.0,441.1 412.4,441.5 411.7,441.9 410.9,442.3 410.0,442.6 409.0,443.0 408.0,443.3 406.9,443.5 405.7,443.8 404.4,444.0 403.1,444.2 401.7,444.3 400.3,444.5 398.8,444.6 397.3,444.7 395.8,444.8 394.3,444.9 392.8,445.0 369.8,445.0" fill="none" stroke="#78706c" stroke-width="3.2" stroke-linecap="round" stroke-linejoin="round"/>
<polygon points="363.3,252.7 421.3,243.7 421.3,307.7 363.3,316.7" fill="#fcd788" stroke="#333" stroke-width="0.75" stroke-dasharray="1 1.4"/>
<rect x="481.5" y="86.8" width="58.30" height="370.5" fill="#ffcce6" stroke="#777" stroke-width="1.8"/>
<path d="M491.5,90.9L511.2,90.9 512.8,91.0 514.3,91.0 515.8,91.1 517.3,91.2 518.8,91.3 520.2,91.4 521.6,91.5 522.9,91.7 524.2,91.9 525.4,92.1 526.5,92.3 527.6,92.6 528.6,92.9 529.5,93.2 530.3,93.6 531.0,93.9 531.6,94.3 532.2,94.7 532.6,95.2 532.9,95.6 533.1,96.1 533.2,96.5 533.2,97.0 533.1,97.5 532.8,97.9 532.5,98.4 532.1,98.9 531.5,99.3 530.9,99.7 530.2,100.1 529.4,100.5 528.4,100.9 527.4,101.2 526.4,101.5 525.2,101.8 524.0,102.0 522.7,102.2 521.4,102.4 520.0,102.6 518.6,102.7 517.1,102.8 515.6,103.0 514.1,103.1 512.6,103.2 511.0,103.3 509.5,103.4 508.0,103.5 506.4,103.6 505.0,103.7 503.5,103.8 502.1,104.0 500.7,104.2 499.4,104.4 498.1,104.6 496.9,104.8 495.8,105.1 494.7,105.4 493.8,105.8 492.9,106.1 492.1,106.5 491.4,106.9 490.8,107.3 490.3,107.8 489.9,108.2 489.6,108.7 489.4,109.2 489.3,109.7 489.3,110.2 489.5,110.6 489.7,111.1 490.0,111.6 490.5,112.1 491.0,112.5 491.7,112.9 492.4,113.3 493.3,113.7 494.2,114.0 495.2,114.3 496.3,114.6 497.5,114.9 498.7,115.1 500.0,115.3 501.3,115.5 502.7,115.7 504.1,115.8 505.6,116.0 507.1,116.1 508.6,116.2 510.2,116.3 511.7,116.4 513.2,116.5 514.8,116.6 516.3,116.7 517.8,116.8 519.2,117.0 520.6,117.1 522.0,117.3 523.3,117.5 524.6,117.7 525.7,118.0 526.9,118.3 527.9,118.6 528.9,118.9 529.7,119.3 530.5,119.7 531.2,120.1 531.8,120.5 532.3,121.0 532.7,121.4 533.0,121.9 533.1,122.4 533.2,122.9 533.2,123.3 533.0,123.8 532.8,124.3 532.4,124.8 531.9,125.2 531.4,125.7 530.7,126.1 529.9,126.5 529.1,126.8 528.2,127.2 527.1,127.5 526.0,127.8 524.9,128.0 523.6,128.3 522.3,128.5 521.0,128.7 519.6,128.8 518.1,129.0 516.7,129.1 515.2,129.2 513.6,129.3 512.1,129.4 510.6,129.5 509.0,129.6 507.5,129.7 506.0,129.8 504.5,130.0 503.1,130.1 501.7,130.3 500.3,130.4 499.0,130.7 497.8,130.9 496.6,131.1 495.5,131.4 494.4,131.7 493.5,132.1 492.6,132.4 491.9,132.8 491.2,133.2 490.6,133.7 490.1,134.1 489.8,134.6 489.5,135.1 489.4,135.6 489.3,136.0 489.4,136.5 489.5,137.0 489.8,137.5 490.2,138.0 490.6,138.4 491.2,138.8 491.9,139.3 492.7,139.6 493.5,140.0 494.5,140.3 495.5,140.7 496.6,140.9 497.8,141.2 499.1,141.4 500.4,141.6 501.7,141.8 503.1,142.0 504.6,142.1 506.1,142.2 507.6,142.3 509.1,142.5 510.6,142.6 512.2,142.6 513.7,142.7 515.2,142.9 516.7,143.0 518.2,143.1 519.6,143.2 521.0,143.4 522.4,143.6 523.7,143.8 524.9,144.0 526.1,144.3 527.2,144.6 528.2,144.9 529.1,145.2 530.0,145.6 530.7,146.0 531.4,146.4 532.0,146.9 532.4,147.3 532.8,147.8 533.0,148.3 533.2,148.7 533.2,149.2 533.1,149.7 532.9,150.2 532.7,150.7 532.3,151.1 531.8,151.6 531.2,152.0 530.5,152.4 529.7,152.8 528.8,153.2 527.9,153.5 526.8,153.8 525.7,154.1 524.5,154.3 523.3,154.6 521.9,154.8 520.6,154.9 519.2,155.1 517.7,155.2 516.2,155.4 514.7,155.5 513.2,155.6 511.6,155.7 510.1,155.8 508.6,155.9 507.1,156.0 505.6,156.1 504.1,156.2 502.7,156.4 501.3,156.5 499.9,156.7 498.6,156.9 497.4,157.2 496.3,157.4 495.2,157.7 494.2,158.1 493.2,158.4 492.4,158.8 491.7,159.2 491.0,159.6 490.5,160.0 490.0,160.5 489.7,161.0 489.5,161.4 489.3,161.9 489.3,162.4 489.4,162.9 489.6,163.4 489.9,163.9 490.3,164.3 490.8,164.8 491.4,165.2 492.1,165.6 492.9,166.0 493.8,166.3 494.8,166.7 495.8,167.0 497.0,167.2 498.2,167.5 499.4,167.7 500.8,167.9 502.1,168.1 503.6,168.2 505.0,168.4 506.5,168.5 508.0,168.6 509.5,168.7 511.1,168.8 512.6,168.9 514.1,169.0 515.7,169.1 517.2,169.2 518.6,169.4 520.0,169.5 521.4,169.7 522.8,169.9 524.1,170.1 525.3,170.3 526.4,170.6 527.5,170.9 528.5,171.2 529.4,171.6 530.2,171.9 530.9,172.3 531.6,172.8 532.1,173.2 532.5,173.7 532.9,174.1 533.1,174.6 533.2,175.1 533.2,175.6 533.1,176.1 532.9,176.6 532.6,177.0 532.1,177.5 531.6,177.9 531.0,178.4 530.3,178.8 529.5,179.1 528.6,179.5 527.6,179.8 526.5,180.1 525.4,180.4 524.1,180.6 522.9,180.9 521.5,181.0 520.2,181.2 518.7,181.4 517.3,181.5 515.8,181.6 514.3,181.7 512.7,181.8 511.2,181.9 509.7,182.0 508.1,182.1 506.6,182.2 505.1,182.4 503.7,182.5 502.2,182.6 500.9,182.8 499.5,183.0 498.3,183.2 497.1,183.5 495.9,183.8 494.9,184.1 493.9,184.4 493.0,184.7 492.2,185.1 491.5,185.5 490.8,185.9 490.3,186.4 489.9,186.9 489.6,187.3 489.4,187.8 489.3,188.3 489.3,188.8 489.4,189.3 489.7,189.7 490.0,190.2 490.4,190.7 491.0,191.1 491.6,191.5 492.3,191.9 493.2,192.3 494.1,192.7 495.1,193.0 496.2,193.3 497.3,193.5 498.5,193.8 499.8,194.0 501.2,194.2 502.6,194.4 504.0,194.5 505.5,194.6 507.0,194.8 508.5,194.9 510.0,195.0 511.5,195.1 513.1,195.2 514.6,195.3 516.1,195.4 517.6,195.5 519.0,195.6 520.5,195.8 521.8,196.0 523.2,196.2 524.4,196.4 525.6,196.6 526.7,196.9 527.8,197.2 528.8,197.5 529.6,197.9 530.4,198.3 531.1,198.7 531.7,199.1 532.2,199.6 532.6,200.0 532.9,200.5 533.1,201.0 533.2,201.5 533.2,202.0 533.0,202.4 532.8,202.9 532.4,203.4 532.0,203.8 531.4,204.3 530.8,204.7 530.0,205.1 529.2,205.5 528.3,205.8 527.3,206.1 526.2,206.4 525.0,206.7 523.8,206.9 522.5,207.1 521.1,207.3 519.7,207.5 518.3,207.6 516.8,207.8 515.3,207.9 513.8,208.0 512.3,208.1 510.7,208.2 509.2,208.3 507.7,208.4 506.2,208.5 504.7,208.6 503.2,208.8 501.8,208.9 500.5,209.1 499.2,209.3 497.9,209.5 496.7,209.8 495.6,210.1 494.6,210.4 493.6,210.7 492.7,211.1 492.0,211.5 491.3,211.9 490.7,212.3 490.2,212.7 489.8,213.2 489.5,213.7 489.4,214.2 489.3,214.7 489.3,215.1 489.5,215.6 489.8,216.1 490.1,216.6 490.6,217.0 491.2,217.5 491.8,217.9 492.6,218.3 493.4,218.6 494.4,219.0 495.4,219.3 496.5,219.6 497.7,219.8 498.9,220.1 500.2,220.3 501.6,220.5 503.0,220.6 504.4,220.8 505.9,220.9 507.4,221.0 508.9,221.1 510.5,221.2 512.0,221.3 513.5,221.4 515.0,221.5 516.5,221.6 518.0,221.7 519.5,221.9 520.9,222.1 522.2,222.2 523.5,222.4 524.8,222.7 526.0,222.9 527.1,223.2 528.1,223.5 529.0,223.9 529.9,224.2 530.7,224.6 531.3,225.0 531.9,225.5 532.4,225.9 532.7,226.4 533.0,226.9 533.2,227.4 533.2,227.8 533.1,228.3 533.0,228.8 532.7,229.3 532.3,229.8 531.8,230.2 531.3,230.6 530.6,231.0 529.8,231.4 528.9,231.8 528.0,232.1 526.9,232.4 525.8,232.7 524.6,233.0 523.4,233.2 522.1,233.4 520.7,233.6 519.3,233.8 517.9,233.9 516.4,234.0 514.9,234.1 513.4,234.2 511.8,234.3 510.3,234.4 508.7,234.5 507.2,234.6 505.7,234.8 504.3,234.9 502.8,235.0 501.4,235.2 500.1,235.4 498.8,235.6 497.5,235.8 496.4,236.1 495.3,236.4 494.3,236.7 493.3,237.0 492.5,237.4 491.7,237.8 491.1,238.2 490.5,238.7 490.1,239.1 489.7,239.6 489.5,240.1 489.3,240.5 489.3,241.0 489.4,241.5 489.6,242.0 489.9,242.5 490.2,242.9 490.7,243.4 491.3,243.8 492.0,244.2 492.8,244.6 493.7,245.0 494.7,245.3 495.7,245.6 496.8,245.9 498.0,246.1 499.3,246.4 500.6,246.6 502.0,246.7 503.4,246.9 504.9,247.0 506.3,247.2 507.8,247.3 509.4,247.4 510.9,247.5 512.4,247.6 514.0,247.7 515.5,247.8 517.0,247.9 518.5,248.0 519.9,248.2 521.3,248.3 522.6,248.5 523.9,248.7 525.1,249.0 526.3,249.2 527.4,249.5 528.4,249.9 529.3,250.2 530.1,250.6 530.9,251.0 531.5,251.4 532.0,251.8 532.5,252.3 532.8,252.8 533.1,253.2 533.2,253.7 533.2,254.2 533.1,254.7 532.9,255.2 532.6,255.7 532.2,256.1 531.7,256.6 531.1,257.0 530.4,257.4 529.6,257.8 528.7,258.1 527.7,258.5 526.6,258.8 525.5,259.0 524.3,259.3 523.0,259.5 521.7,259.7 520.3,259.9 518.9,260.0 517.4,260.2 515.9,260.3 514.4,260.4 512.9,260.5 511.4,260.6 509.8,260.7 508.3,260.8 506.8,260.9 505.3,261.0 503.8,261.1 502.4,261.3 501.0,261.5 499.7,261.7 498.4,261.9 497.2,262.1 496.0,262.4 495.0,262.7 494.0,263.0 493.1,263.4 492.3,263.7 491.5,264.1 490.9,264.6 490.4,265.0 490.0,265.5 489.6,265.9 489.4,266.4 489.3,266.9 489.3,267.4 489.4,267.9 489.6,268.4 490.0,268.8 490.4,269.3 490.9,269.7 491.5,270.2 492.3,270.6 493.1,270.9 494.0,271.3 495.0,271.6 496.0,271.9 497.2,272.2 498.4,272.4 499.7,272.6 501.0,272.8 502.4,273.0 503.8,273.2 505.3,273.3 506.8,273.4 508.3,273.5 509.8,273.6 511.4,273.7 512.9,273.8 514.4,273.9 515.9,274.0 517.4,274.1 518.9,274.3 520.3,274.4 521.7,274.6 523.0,274.8 524.3,275.0 525.5,275.3 526.6,275.5 527.7,275.8 528.7,276.2 529.6,276.5 530.4,276.9 531.1,277.3 531.7,277.7 532.2,278.2 532.6,278.6 532.9,279.1 533.1,279.6 533.2,280.1 533.2,280.6 533.1,281.1 532.8,281.5 532.5,282.0 532.0,282.5 531.5,282.9 530.9,283.3 530.1,283.7 529.3,284.1 528.4,284.4 527.4,284.8 526.3,285.1 525.1,285.3 523.9,285.6 522.6,285.8 521.3,286.0 519.9,286.1 518.5,286.3 517.0,286.4 515.5,286.5 514.0,286.6 512.4,286.7 510.9,286.8 509.4,286.9 507.8,287.0 506.3,287.1 504.9,287.3 503.4,287.4 502.0,287.6 500.6,287.7 499.3,287.9 498.0,288.2 496.8,288.4 495.7,288.7 494.7,289.0 493.7,289.3 492.8,289.7 492.0,290.1 491.3,290.5 490.7,290.9 490.2,291.4 489.9,291.8 489.6,292.3 489.4,292.8 489.3,293.3 489.3,293.8 489.5,294.2 489.7,294.7 490.1,295.2 490.5,295.6 491.1,296.1 491.7,296.5 492.5,296.9 493.3,297.3 494.3,297.6 495.3,297.9 496.4,298.2 497.5,298.5 498.8,298.7 500.1,298.9 501.4,299.1 502.8,299.3 504.3,299.4 505.7,299.5 507.2,299.7 508.7,299.8 510.3,299.9 511.8,300.0 513.4,300.1 514.9,300.2 516.4,300.3 517.9,300.4 519.3,300.5 520.7,300.7 522.1,300.9 523.4,301.1 524.6,301.3 525.8,301.6 526.9,301.9 528.0,302.2 528.9,302.5 529.8,302.9 530.6,303.3 531.3,303.7 531.8,304.1 532.3,304.5 532.7,305.0 533.0,305.5 533.1,306.0 533.2,306.5 533.2,306.9 533.0,307.4 532.7,307.9 532.4,308.4 531.9,308.8 531.3,309.3 530.7,309.7 529.9,310.1 529.0,310.4 528.1,310.8 527.1,311.1 526.0,311.4 524.8,311.6 523.5,311.9 522.2,312.1 520.9,312.2 519.5,312.4 518.0,312.6 516.5,312.7 515.0,312.8 513.5,312.9 512.0,313.0 510.5,313.1 508.9,313.2 507.4,313.3 505.9,313.4 504.4,313.5 503.0,313.7 501.6,313.8 500.2,314.0 498.9,314.2 497.7,314.5 496.5,314.7 495.4,315.0 494.4,315.3 493.4,315.7 492.6,316.0 491.8,316.4 491.2,316.8 490.6,317.3 490.1,317.7 489.8,318.2 489.5,318.7 489.3,319.2 489.3,319.6 489.4,320.1 489.5,320.6 489.8,321.1 490.2,321.6 490.7,322.0 491.3,322.4 492.0,322.8 492.7,323.2 493.6,323.6 494.6,323.9 495.6,324.2 496.7,324.5 497.9,324.8 499.2,325.0 500.5,325.2 501.8,325.4 503.2,325.5 504.7,325.7 506.2,325.8 507.7,325.9 509.2,326.0 510.7,326.1 512.3,326.2 513.8,326.3 515.3,326.4 516.8,326.5 518.3,326.7 519.7,326.8 521.1,327.0 522.5,327.2 523.8,327.4 525.0,327.6 526.2,327.9 527.3,328.2 528.3,328.5 529.2,328.8 530.0,329.2 530.8,329.6 531.4,330.0 532.0,330.5 532.4,330.9 532.8,331.4 533.0,331.9 533.2,332.3 533.2,332.8 533.1,333.3 532.9,333.8 532.6,334.3 532.2,334.7 531.7,335.2 531.1,335.6 530.4,336.0 529.6,336.4 528.8,336.8 527.8,337.1 526.7,337.4 525.6,337.7 524.4,337.9 523.2,338.1 521.8,338.3 520.5,338.5 519.0,338.7 517.6,338.8 516.1,338.9 514.6,339.0 513.1,339.1 511.5,339.2 510.0,339.3 508.5,339.4 507.0,339.5 505.5,339.7 504.0,339.8 502.6,339.9 501.2,340.1 499.8,340.3 498.5,340.5 497.3,340.8 496.2,341.0 495.1,341.3 494.1,341.6 493.2,342.0 492.3,342.4 491.6,342.8 491.0,343.2 490.4,343.6 490.0,344.1 489.7,344.6 489.4,345.0 489.3,345.5 489.3,346.0 489.4,346.5 489.6,347.0 489.9,347.4 490.3,347.9 490.8,348.4 491.5,348.8 492.2,349.2 493.0,349.6 493.9,349.9 494.9,350.2 495.9,350.5 497.1,350.8 498.3,351.1 499.5,351.3 500.9,351.5 502.2,351.7 503.7,351.8 505.1,351.9 506.6,352.1 508.1,352.2 509.7,352.3 511.2,352.4 512.7,352.5 514.3,352.6 515.8,352.7 517.3,352.8 518.7,352.9 520.2,353.1 521.5,353.3 522.9,353.4 524.1,353.7 525.4,353.9 526.5,354.2 527.6,354.5 528.6,354.8 529.5,355.2 530.3,355.5 531.0,355.9 531.6,356.4 532.1,356.8 532.6,357.3 532.9,357.7 533.1,358.2 533.2,358.7 533.2,359.2 533.1,359.7 532.9,360.2 532.5,360.6 532.1,361.1 531.6,361.5 530.9,362.0 530.2,362.4 529.4,362.7 528.5,363.1 527.5,363.4 526.4,363.7 525.3,364.0 524.1,364.2 522.8,364.4 521.4,364.6 520.0,364.8 518.6,364.9 517.2,365.1 515.7,365.2 514.1,365.3 512.6,365.4 511.1,365.5 509.5,365.6 508.0,365.7 506.5,365.8 505.0,365.9 503.6,366.1 502.1,366.2 500.8,366.4 499.4,366.6 498.2,366.8 497.0,367.1 495.8,367.3 494.8,367.6 493.8,368.0 492.9,368.3 492.1,368.7 491.4,369.1 490.8,369.5 490.3,370.0 489.9,370.4 489.6,370.9 489.4,371.4 489.3,371.9 489.3,372.4 489.5,372.9 489.7,373.3 490.0,373.8 490.5,374.3 491.0,374.7 491.7,375.1 492.4,375.5 493.2,375.9 494.2,376.2 495.2,376.6 496.3,376.9 497.4,377.1 498.6,377.4 499.9,377.6 501.3,377.8 502.7,377.9 504.1,378.1 505.6,378.2 507.1,378.3 508.6,378.4 510.1,378.5 511.6,378.6 513.2,378.7 514.7,378.8 516.2,378.9 517.7,379.1 519.2,379.2 520.6,379.4 521.9,379.5 523.3,379.7 524.5,380.0 525.7,380.2 526.8,380.5 527.9,380.8 528.8,381.1 529.7,381.5 530.5,381.9 531.2,382.3 531.8,382.7 532.3,383.2 532.7,383.6 532.9,384.1 533.1,384.6 533.2,385.1 533.2,385.6 533.0,386.0 532.8,386.5 532.4,387.0 532.0,387.4 531.4,387.9 530.7,388.3 530.0,388.7 529.1,389.1 528.2,389.4 527.2,389.7 526.1,390.0 524.9,390.3 523.7,390.5 522.4,390.7 521.0,390.9 519.6,391.1 518.2,391.2 516.7,391.3 515.2,391.4 513.7,391.6 512.2,391.7 510.6,391.7 509.1,391.8 507.6,392.0 506.1,392.1 504.6,392.2 503.1,392.3 501.7,392.5 500.4,392.7 499.1,392.9 497.8,393.1 496.6,393.4 495.5,393.6 494.5,394.0 493.5,394.3 492.7,394.7 491.9,395.0 491.2,395.5 490.6,395.9 490.2,396.3 489.8,396.8 489.5,397.3 489.4,397.8 489.3,398.3 489.4,398.7 489.5,399.2 489.8,399.7 490.1,400.2 490.6,400.6 491.2,401.1 491.9,401.5 492.6,401.9 493.5,402.2 494.4,402.6 495.5,402.9 496.6,403.2 497.8,403.4 499.0,403.6 500.3,403.9 501.7,404.0 503.1,404.2 504.5,404.3 506.0,404.5 507.5,404.6 509.0,404.7 510.6,404.8 512.1,404.9 513.6,405.0 515.2,405.1 516.7,405.2 518.1,405.3 519.6,405.5 521.0,405.6 522.3,405.8 523.6,406.0 524.9,406.3 526.0,406.5 527.1,406.8 528.2,407.1 529.1,407.5 529.9,407.8 530.7,408.2 531.4,408.6 531.9,409.1 532.4,409.5 532.8,410.0 533.0,410.5 533.2,411.0 533.2,411.4 533.1,411.9 533.0,412.4 532.7,412.9 532.3,413.3 531.8,413.8 531.2,414.2 530.5,414.6 529.7,415.0 528.9,415.4 527.9,415.7 526.9,416.0 525.7,416.3 524.6,416.6 523.3,416.8 522.0,417.0 520.6,417.2 519.2,417.3 517.8,417.5 516.3,417.6 514.8,417.7 513.2,417.8 511.7,417.9 510.2,418.0 508.6,418.1 507.1,418.2 505.6,418.3 504.1,418.5 502.7,418.6 501.3,418.8 500.0,419.0 498.7,419.2 497.5,419.4 496.3,419.7 495.2,420.0 494.2,420.3 493.3,420.6 492.4,421.0 491.7,421.4 491.0,421.8 490.5,422.2 490.0,422.7 489.7,423.2 489.5,423.7 489.3,424.1 489.3,424.6 489.4,425.1 489.6,425.6 489.9,426.1 490.3,426.5 490.8,427.0 491.4,427.4 492.1,427.8 492.9,428.2 493.8,428.5 494.7,428.9 495.8,429.2 496.9,429.5 498.1,429.7 499.4,429.9 500.7,430.1 502.1,430.3 503.5,430.5 505.0,430.6 506.4,430.7 508.0,430.8 509.5,430.9 511.0,431.0 512.6,431.1 514.1,431.2 515.6,431.3 517.1,431.5 518.6,431.6 520.0,431.7 521.4,431.9 522.7,432.1 524.0,432.3 525.2,432.5 526.4,432.8 527.4,433.1 528.4,433.4 529.4,433.8 530.2,434.2 530.9,434.6 531.5,435.0 532.1,435.4 532.5,435.9 532.8,436.4 533.1,436.8 533.2,437.3 533.2,437.8 533.1,438.3 532.9,438.8 532.6,439.3 532.2,439.8 531.6,440.3 531.0,440.8 530.3,441.2 529.5,441.6 528.6,442.0 527.6,442.3 526.5,442.7 525.4,443.0 524.2,443.2 522.9,443.5 521.6,443.7 520.2,443.9 518.8,444.1 517.3,444.3 515.8,444.4 514.3,444.5 512.8,444.7 511.3,444.8 492.0,444.8" fill="none" stroke="#76666f" stroke-width="3.2" stroke-linecap="round" stroke-linejoin="round"/>
<polygon points="481.8,232.4 539.5,223.4 539.5,287.2 481.8,296.2" fill="#ff6ed9" stroke="#333" stroke-width="0.75" stroke-dasharray="1 1.4"/>
<rect x="594.5" y="86.8" width="58.30" height="370.5" fill="#bffefe" stroke="#777" stroke-width="1.8"/>
<path d="M599.8,91.0L623.3,91.0 624.8,91.1 626.3,91.2 627.8,91.3 629.2,91.4 630.7,91.6 632.1,91.7 633.4,91.9 634.7,92.1 636.0,92.3 637.2,92.6 638.3,92.8 639.3,93.1 640.3,93.5 641.2,93.8 642.0,94.2 642.7,94.6 643.3,95.0 643.8,95.5 644.2,95.9 644.5,96.4 644.7,96.9 644.8,97.4 644.8,97.9 644.7,98.4 644.4,98.9 644.1,99.4 643.7,99.9 643.2,100.3 642.6,100.8 641.8,101.2 641.0,101.6 640.1,102.0 639.2,102.3 638.1,102.7 637.0,102.9 635.8,103.2 634.5,103.4 633.2,103.7 631.9,103.9 630.5,104.0 629.0,104.2 627.5,104.3 626.1,104.4 624.6,104.6 623.1,104.7 621.6,104.8 620.1,104.9 618.6,105.1 617.1,105.2 615.7,105.4 614.3,105.6 613.0,105.8 611.7,106.0 610.4,106.2 609.3,106.5 608.2,106.8 607.1,107.1 606.2,107.5 605.3,107.9 604.5,108.3 603.8,108.7 603.2,109.1 602.8,109.6 602.4,110.1 602.1,110.6 601.9,111.1 601.8,111.6 601.8,112.1 602.0,112.6 602.2,113.1 602.5,113.6 603.0,114.1 603.5,114.6 604.2,115.0 604.9,115.4 605.7,115.8 606.6,116.2 607.6,116.5 608.7,116.8 609.8,117.1 611.0,117.4 612.3,117.6 613.6,117.8 615.0,118.0 616.4,118.2 617.8,118.3 619.3,118.5 620.8,118.6 622.3,118.7 623.8,118.9 625.3,119.0 626.8,119.1 628.3,119.2 629.7,119.4 631.1,119.5 632.5,119.7 633.8,119.9 635.1,120.2 636.4,120.4 637.5,120.7 638.6,121.0 639.6,121.3 640.6,121.7 641.4,122.1 642.2,122.5 642.9,122.9 643.4,123.4 643.9,123.8 644.3,124.3 644.6,124.8 644.7,125.3 644.8,125.8 644.8,126.4 644.6,126.9 644.4,127.4 644.0,127.8 643.5,128.3 643.0,128.8 642.3,129.2 641.6,129.6 640.8,130.0 639.8,130.4 638.8,130.7 637.8,131.0 636.6,131.3 635.4,131.6 634.1,131.8 632.8,132.0 631.4,132.2 630.0,132.4 628.5,132.5 627.1,132.7 625.6,132.8 624.1,132.9 622.6,133.0 621.1,133.1 619.6,133.3 618.1,133.4 616.7,133.6 615.2,133.7 613.9,133.9 612.5,134.1 611.3,134.3 610.0,134.6 608.9,134.9 607.8,135.2 606.8,135.5 605.9,135.9 605.0,136.3 604.3,136.7 603.6,137.1 603.1,137.6 602.6,138.1 602.3,138.5 602.0,139.0 601.8,139.6 601.8,140.1 601.9,140.6 602.0,141.1 602.3,141.6 602.7,142.1 603.1,142.5 603.7,143.0 604.4,143.4 605.1,143.8 606.0,144.2 606.9,144.6 607.9,144.9 609.0,145.2 610.2,145.5 611.4,145.8 612.7,146.0 614.0,146.2 615.4,146.4 616.8,146.5 618.3,146.7 619.8,146.8 621.3,146.9 622.8,147.1 624.3,147.2 625.8,147.3 627.3,147.4 628.7,147.6 630.2,147.7 631.6,147.9 632.9,148.1 634.3,148.3 635.5,148.5 636.7,148.8 637.9,149.1 639.0,149.4 639.9,149.7 640.9,150.1 641.7,150.5 642.4,150.9 643.1,151.3 643.6,151.8 644.1,152.3 644.4,152.8 644.6,153.3 644.8,153.8 644.8,154.3 644.7,154.8 644.5,155.3 644.3,155.8 643.9,156.3 643.4,156.8 642.8,157.2 642.1,157.6 641.3,158.1 640.5,158.4 639.5,158.8 638.5,159.1 637.4,159.4 636.2,159.7 635.0,159.9 633.7,160.2 632.3,160.4 631.0,160.5 629.5,160.7 628.1,160.9 626.6,161.0 625.1,161.1 623.6,161.2 622.1,161.4 620.6,161.5 619.1,161.6 617.6,161.7 616.2,161.9 614.8,162.1 613.4,162.3 612.1,162.5 610.9,162.7 609.7,163.0 608.5,163.3 607.5,163.6 606.5,163.9 605.6,164.3 604.8,164.7 604.1,165.1 603.4,165.6 602.9,166.0 602.5,166.5 602.2,167.0 601.9,167.5 601.8,168.0 601.8,168.5 601.9,169.0 602.1,169.5 602.4,170.0 602.8,170.5 603.3,171.0 603.9,171.4 604.6,171.9 605.4,172.3 606.3,172.6 607.2,173.0 608.3,173.3 609.4,173.6 610.6,173.9 611.8,174.1 613.1,174.3 614.5,174.5 615.9,174.7 617.3,174.9 618.8,175.0 620.2,175.2 621.7,175.3 623.2,175.4 624.7,175.5 626.2,175.6 627.7,175.8 629.2,175.9 630.6,176.1 632.0,176.2 633.4,176.4 634.7,176.7 635.9,176.9 637.1,177.2 638.2,177.5 639.3,177.8 640.2,178.1 641.1,178.5 641.9,178.9 642.6,179.3 643.2,179.8 643.8,180.2 644.2,180.7 644.5,181.2 644.7,181.7 644.8,182.2 644.8,182.8 644.7,183.3 644.5,183.8 644.1,184.3 643.7,184.7 643.2,185.2 642.6,185.6 641.9,186.1 641.1,186.5 640.2,186.8 639.2,187.2 638.1,187.5 637.0,187.8 635.8,188.1 634.6,188.3 633.3,188.5 631.9,188.7 630.5,188.9 629.1,189.0 627.6,189.2 626.1,189.3 624.6,189.4 623.1,189.6 621.6,189.7 620.1,189.8 618.6,189.9 617.2,190.1 615.8,190.2 614.4,190.4 613.0,190.6 611.7,190.8 610.5,191.1 609.3,191.4 608.2,191.7 607.2,192.0 606.2,192.3 605.3,192.7 604.6,193.1 603.9,193.6 603.3,194.0 602.8,194.5 602.4,195.0 602.1,195.5 601.9,196.0 601.8,196.5 601.8,197.0 602.0,197.5 602.2,198.0 602.5,198.5 603.0,199.0 603.5,199.4 604.1,199.9 604.9,200.3 605.7,200.7 606.6,201.0 607.6,201.4 608.6,201.7 609.8,202.0 611.0,202.3 612.2,202.5 613.5,202.7 614.9,202.9 616.3,203.1 617.8,203.2 619.2,203.4 620.7,203.5 622.2,203.6 623.7,203.7 625.2,203.8 626.7,204.0 628.2,204.1 629.7,204.3 631.1,204.4 632.5,204.6 633.8,204.8 635.1,205.0 636.3,205.3 637.5,205.5 638.6,205.9 639.6,206.2 640.5,206.5 641.4,206.9 642.2,207.3 642.8,207.8 643.4,208.2 643.9,208.7 644.3,209.2 644.6,209.7 644.7,210.2 644.8,210.7 644.8,211.2 644.6,211.7 644.4,212.2 644.0,212.7 643.6,213.2 643.0,213.6 642.4,214.1 641.6,214.5 640.8,214.9 639.9,215.3 638.9,215.6 637.8,215.9 636.6,216.2 635.4,216.4 634.2,216.7 632.8,216.9 631.5,217.1 630.1,217.2 628.6,217.4 627.1,217.5 625.6,217.7 624.1,217.8 622.6,217.9 621.1,218.0 619.6,218.1 618.2,218.3 616.7,218.4 615.3,218.6 613.9,218.8 612.6,219.0 611.3,219.2 610.1,219.5 608.9,219.7 607.9,220.0 606.8,220.4 605.9,220.7 605.1,221.1 604.3,221.5 603.7,222.0 603.1,222.4 602.6,222.9 602.3,223.4 602.0,223.9 601.9,224.4 601.8,224.9 601.9,225.4 602.0,225.9 602.3,226.4 602.6,226.9 603.1,227.4 603.7,227.9 604.3,228.3 605.1,228.7 606.0,229.1 606.9,229.5 607.9,229.8 609.0,230.1 610.1,230.4 611.4,230.6 612.6,230.9 614.0,231.1 615.4,231.2 616.8,231.4 618.2,231.6 619.7,231.7 621.2,231.8 622.7,231.9 624.2,232.1 625.7,232.2 627.2,232.3 628.7,232.4 630.1,232.6 631.5,232.8 632.9,232.9 634.2,233.2 635.5,233.4 636.7,233.6 637.8,233.9 638.9,234.2 639.9,234.6 640.8,235.0 641.7,235.3 642.4,235.8 643.0,236.2 643.6,236.7 644.0,237.1 644.4,237.6 644.6,238.1 644.8,238.6 644.8,239.2 644.7,239.7 644.5,240.2 644.3,240.7 643.9,241.2 643.4,241.6 642.8,242.1 642.1,242.5 641.4,242.9 640.5,243.3 639.6,243.7 638.5,244.0 637.4,244.3 636.3,244.6 635.0,244.8 633.7,245.0 632.4,245.2 631.0,245.4 629.6,245.6 628.1,245.7 626.7,245.9 625.2,246.0 623.7,246.1 622.2,246.2 620.7,246.3 619.2,246.5 617.7,246.6 616.3,246.8 614.9,246.9 613.5,247.1 612.2,247.3 610.9,247.6 609.7,247.8 608.6,248.1 607.5,248.4 606.5,248.8 605.6,249.2 604.8,249.6 604.1,250.0 603.5,250.4 602.9,250.9 602.5,251.4 602.2,251.9 601.9,252.4 601.8,252.9 601.8,253.4 601.9,253.9 602.1,254.4 602.4,254.9 602.8,255.4 603.3,255.8 603.9,256.3 604.6,256.7 605.4,257.1 606.2,257.5 607.2,257.9 608.2,258.2 609.3,258.5 610.5,258.8 611.8,259.0 613.1,259.2 614.4,259.4 615.8,259.6 617.2,259.7 618.7,259.9 620.2,260.0 621.7,260.1 623.2,260.3 624.7,260.4 626.2,260.5 627.7,260.6 629.1,260.8 630.6,260.9 632.0,261.1 633.3,261.3 634.6,261.5 635.9,261.8 637.1,262.0 638.2,262.3 639.2,262.6 640.2,263.0 641.1,263.4 641.9,263.8 642.6,264.2 643.2,264.6 643.7,265.1 644.2,265.6 644.5,266.1 644.7,266.6 644.8,267.1 644.8,267.6 644.7,268.1 644.5,268.6 644.2,269.1 643.7,269.6 643.2,270.1 642.6,270.5 641.9,270.9 641.1,271.3 640.2,271.7 639.2,272.1 638.2,272.4 637.1,272.7 635.9,272.9 634.6,273.2 633.3,273.4 632.0,273.6 630.6,273.8 629.1,273.9 627.7,274.1 626.2,274.2 624.7,274.3 623.2,274.4 621.7,274.6 620.2,274.7 618.7,274.8 617.2,275.0 615.8,275.1 614.4,275.3 613.1,275.5 611.8,275.7 610.5,275.9 609.3,276.2 608.2,276.5 607.2,276.8 606.2,277.2 605.4,277.6 604.6,278.0 603.9,278.4 603.3,278.9 602.8,279.3 602.4,279.8 602.1,280.3 601.9,280.8 601.8,281.3 601.8,281.8 601.9,282.3 602.2,282.8 602.5,283.3 602.9,283.8 603.5,284.3 604.1,284.7 604.8,285.1 605.6,285.5 606.5,285.9 607.5,286.3 608.6,286.6 609.7,286.9 610.9,287.1 612.2,287.4 613.5,287.6 614.9,287.8 616.3,287.9 617.7,288.1 619.2,288.2 620.7,288.4 622.2,288.5 623.7,288.6 625.2,288.7 626.7,288.8 628.1,289.0 629.6,289.1 631.0,289.3 632.4,289.5 633.7,289.7 635.0,289.9 636.3,290.1 637.4,290.4 638.5,290.7 639.6,291.0 640.5,291.4 641.4,291.8 642.1,292.2 642.8,292.6 643.4,293.1 643.9,293.5 644.3,294.0 644.5,294.5 644.7,295.0 644.8,295.5 644.8,296.1 644.6,296.6 644.4,297.1 644.0,297.6 643.6,298.0 643.0,298.5 642.4,298.9 641.7,299.4 640.8,299.7 639.9,300.1 638.9,300.5 637.8,300.8 636.7,301.1 635.5,301.3 634.2,301.5 632.9,301.8 631.5,301.9 630.1,302.1 628.7,302.3 627.2,302.4 625.7,302.5 624.2,302.6 622.7,302.8 621.2,302.9 619.7,303.0 618.2,303.1 616.8,303.3 615.4,303.5 614.0,303.6 612.6,303.8 611.4,304.1 610.1,304.3 609.0,304.6 607.9,304.9 606.9,305.2 606.0,305.6 605.1,306.0 604.3,306.4 603.7,306.8 603.1,307.3 602.6,307.8 602.3,308.3 602.0,308.8 601.9,309.3 601.8,309.8 601.9,310.3 602.0,310.8 602.3,311.3 602.6,311.8 603.1,312.3 603.7,312.7 604.3,313.2 605.1,313.6 605.9,314.0 606.8,314.3 607.9,314.7 608.9,315.0 610.1,315.2 611.3,315.5 612.6,315.7 613.9,315.9 615.3,316.1 616.7,316.3 618.2,316.4 619.6,316.6 621.1,316.7 622.6,316.8 624.1,316.9 625.6,317.0 627.1,317.2 628.6,317.3 630.1,317.5 631.5,317.6 632.8,317.8 634.2,318.0 635.4,318.3 636.6,318.5 637.8,318.8 638.9,319.1 639.9,319.4 640.8,319.8 641.6,320.2 642.4,320.6 643.0,321.1 643.6,321.5 644.0,322.0 644.4,322.5 644.6,323.0 644.8,323.5 644.8,324.0 644.7,324.5 644.6,325.0 644.3,325.5 643.9,326.0 643.4,326.5 642.8,326.9 642.2,327.4 641.4,327.8 640.5,328.2 639.6,328.5 638.6,328.8 637.5,329.2 636.3,329.4 635.1,329.7 633.8,329.9 632.5,330.1 631.1,330.3 629.7,330.4 628.2,330.6 626.7,330.7 625.2,330.9 623.7,331.0 622.2,331.1 620.7,331.2 619.2,331.3 617.8,331.5 616.3,331.6 614.9,331.8 613.5,332.0 612.2,332.2 611.0,332.4 609.8,332.7 608.6,333.0 607.6,333.3 606.6,333.7 605.7,334.0 604.9,334.4 604.1,334.8 603.5,335.3 603.0,335.7 602.5,336.2 602.2,336.7 602.0,337.2 601.8,337.7 601.8,338.2 601.9,338.7 602.1,339.2 602.4,339.7 602.8,340.2 603.3,340.7 603.9,341.1 604.6,341.6 605.3,342.0 606.2,342.4 607.2,342.7 608.2,343.0 609.3,343.3 610.5,343.6 611.7,343.9 613.0,344.1 614.4,344.3 615.8,344.5 617.2,344.6 618.6,344.8 620.1,344.9 621.6,345.0 623.1,345.1 624.6,345.3 626.1,345.4 627.6,345.5 629.1,345.7 630.5,345.8 631.9,346.0 633.3,346.2 634.6,346.4 635.8,346.6 637.0,346.9 638.1,347.2 639.2,347.5 640.2,347.9 641.1,348.2 641.9,348.6 642.6,349.1 643.2,349.5 643.7,350.0 644.1,350.4 644.5,350.9 644.7,351.4 644.8,351.9 644.8,352.5 644.7,353.0 644.5,353.5 644.2,354.0 643.8,354.5 643.2,354.9 642.6,355.4 641.9,355.8 641.1,356.2 640.2,356.6 639.3,356.9 638.2,357.2 637.1,357.5 635.9,357.8 634.7,358.0 633.4,358.3 632.0,358.5 630.6,358.6 629.2,358.8 627.7,358.9 626.2,359.1 624.7,359.2 623.2,359.3 621.7,359.4 620.2,359.5 618.8,359.7 617.3,359.8 615.9,360.0 614.5,360.2 613.1,360.4 611.8,360.6 610.6,360.8 609.4,361.1 608.3,361.4 607.2,361.7 606.3,362.1 605.4,362.4 604.6,362.8 603.9,363.3 603.3,363.7 602.8,364.2 602.4,364.7 602.1,365.2 601.9,365.7 601.8,366.2 601.8,366.7 601.9,367.2 602.2,367.7 602.5,368.2 602.9,368.7 603.4,369.1 604.1,369.6 604.8,370.0 605.6,370.4 606.5,370.8 607.5,371.1 608.5,371.4 609.7,371.7 610.9,372.0 612.1,372.2 613.4,372.4 614.8,372.6 616.2,372.8 617.6,373.0 619.1,373.1 620.6,373.2 622.1,373.3 623.6,373.5 625.1,373.6 626.6,373.7 628.1,373.8 629.5,374.0 631.0,374.2 632.3,374.3 633.7,374.5 635.0,374.8 636.2,375.0 637.4,375.3 638.5,375.6 639.5,375.9 640.5,376.3 641.3,376.6 642.1,377.1 642.8,377.5 643.4,377.9 643.9,378.4 644.3,378.9 644.5,379.4 644.7,379.9 644.8,380.4 644.8,380.9 644.6,381.4 644.4,381.9 644.1,382.4 643.6,382.9 643.1,383.4 642.4,383.8 641.7,384.2 640.9,384.6 639.9,385.0 639.0,385.3 637.9,385.6 636.7,385.9 635.5,386.2 634.3,386.4 632.9,386.6 631.6,386.8 630.2,387.0 628.7,387.1 627.3,387.3 625.8,387.4 624.3,387.5 622.8,387.6 621.3,387.8 619.8,387.9 618.3,388.0 616.8,388.2 615.4,388.3 614.0,388.5 612.7,388.7 611.4,388.9 610.2,389.2 609.0,389.5 607.9,389.8 606.9,390.1 606.0,390.5 605.1,390.9 604.4,391.3 603.7,391.7 603.1,392.2 602.7,392.6 602.3,393.1 602.0,393.6 601.9,394.1 601.8,394.6 601.8,395.1 602.0,395.7 602.3,396.2 602.6,396.6 603.1,397.1 603.6,397.6 604.3,398.0 605.0,398.4 605.9,398.8 606.8,399.2 607.8,399.5 608.9,399.8 610.0,400.1 611.3,400.4 612.5,400.6 613.9,400.8 615.2,401.0 616.7,401.1 618.1,401.3 619.6,401.4 621.1,401.6 622.6,401.7 624.1,401.8 625.6,401.9 627.1,402.0 628.5,402.2 630.0,402.3 631.4,402.5 632.8,402.7 634.1,402.9 635.4,403.1 636.6,403.4 637.8,403.7 638.8,404.0 639.8,404.3 640.8,404.7 641.6,405.1 642.3,405.5 643.0,405.9 643.5,406.4 644.0,406.9 644.4,407.3 644.6,407.8 644.8,408.3 644.8,408.9 644.7,409.4 644.6,409.9 644.3,410.4 643.9,410.9 643.4,411.3 642.9,411.8 642.2,412.2 641.4,412.6 640.6,413.0 639.6,413.4 638.6,413.7 637.5,414.0 636.4,414.3 635.1,414.5 633.8,414.8 632.5,415.0 631.1,415.2 629.7,415.3 628.3,415.5 626.8,415.6 625.3,415.7 623.8,415.8 622.3,416.0 620.8,416.1 619.3,416.2 617.8,416.4 616.4,416.5 615.0,416.7 613.6,416.9 612.3,417.1 611.0,417.3 609.8,417.6 608.7,417.9 607.6,418.2 606.6,418.5 605.7,418.9 604.9,419.3 604.2,419.7 603.5,420.1 603.0,420.6 602.5,421.1 602.2,421.6 602.0,422.1 601.8,422.6 601.8,423.1 601.9,423.6 602.1,424.1 602.4,424.6 602.8,425.1 603.2,425.6 603.8,426.0 604.5,426.4 605.3,426.8 606.2,427.2 607.1,427.6 608.2,427.9 609.3,428.2 610.4,428.5 611.7,428.7 613.0,428.9 614.3,429.1 615.7,429.3 617.1,429.5 618.6,429.6 620.1,429.8 621.6,429.9 623.1,430.0 624.6,430.1 626.1,430.3 627.5,430.4 629.0,430.5 630.5,430.7 631.9,430.8 633.2,431.0 634.5,431.3 635.8,431.5 637.0,431.8 638.1,432.0 639.2,432.4 640.1,432.7 641.0,433.1 641.8,433.5 642.6,433.9 643.2,434.4 643.7,434.8 644.1,435.3 644.4,435.8 644.7,436.3 644.8,436.8 644.8,437.3 644.7,437.8 644.5,438.2 644.2,438.7 643.8,439.2 643.3,439.6 642.7,440.0 642.0,440.4 641.2,440.8 640.3,441.1 639.3,441.4 638.3,441.7 637.2,442.0 636.0,442.2 634.7,442.4 633.4,442.6 632.1,442.8 630.7,442.9 629.2,443.0 627.8,443.1 626.3,443.2 624.8,443.3 623.3,443.4 601.8,443.4" fill="none" stroke="#698787" stroke-width="3.2" stroke-linecap="round" stroke-linejoin="round"/>
<polygon points="594.8,209.8 652.5,200.8 652.5,265.3 594.8,274.3" fill="#35f4fe" stroke="#333" stroke-width="0.75" stroke-dasharray="1 1.4"/>
<line x1="81.7" y1="335" x2="722" y2="221.5" stroke="#777" stroke-width="12" stroke-linecap="round"/>
<polygon points="718,203.3 769.7,214.8 723.2,240.1" fill="#777"/>
<circle cx="733.6" cy="219.7" r="0.7" fill="#fff"/>
<text transform="translate(80,589.7) rotate(-45)" font-family="Liberation Sans" font-size="23" fill="#000" stroke="#000" stroke-width="0.3">User Interface</text>
<text transform="translate(200.5,583.5) rotate(-45)" font-family="Liberation Sans" font-size="23" fill="#000" stroke="#000" stroke-width="0.3">Authorization</text>
<text transform="translate(292.3,597) rotate(-45)" font-family="Liberation Sans" font-size="23" fill="#000" stroke="#000" stroke-width="0.3">Business Logic</text>
<text transform="translate(436,572.8) rotate(-45)" font-family="Liberation Sans" font-size="23" fill="#000" stroke="#000" stroke-width="0.3">Data Model</text>
<text transform="translate(563.5,558.5) rotate(-45)" font-family="Liberation Sans" font-size="23" fill="#000" stroke="#000" stroke-width="0.3">Database</text>
</svg>
</body></html>
